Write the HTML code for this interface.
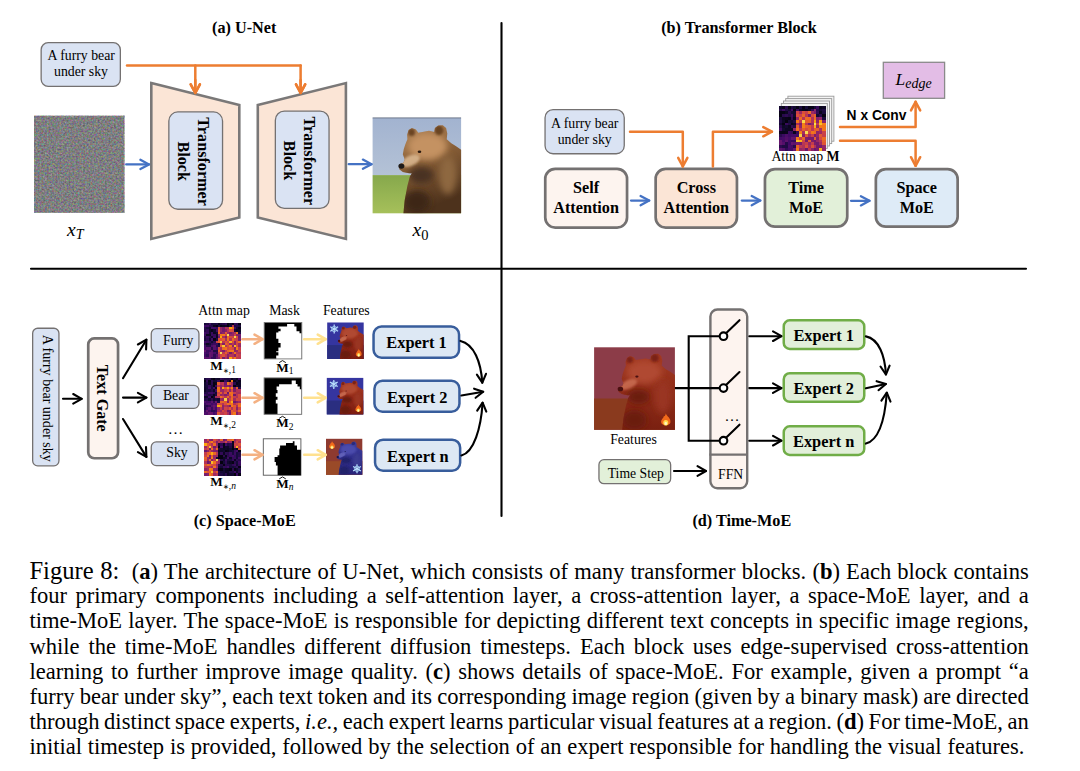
<!DOCTYPE html>
<html><head><meta charset="utf-8">
<style>
html,body{margin:0;padding:0;background:#fff;}
body{width:1080px;height:771px;position:relative;overflow:hidden;}
svg{position:absolute;left:0;top:0;}
.cap{position:absolute;left:0;top:0;font-family:"Liberation Serif",serif;color:#000;}
.ln{position:absolute;white-space:nowrap;line-height:25px;}
</style></head><body>
<svg width="1080" height="771" viewBox="0 0 1080 771">
<line x1="501.5" y1="23" x2="501.5" y2="516" stroke="#000" stroke-width="2.1" stroke-linecap="round"/>
<line x1="31" y1="268.7" x2="1026" y2="268.7" stroke="#000" stroke-width="2.1" stroke-linecap="round"/>
<text x="244.25" y="33.4" font-family="Liberation Serif" font-size="16.2" font-weight="bold" text-anchor="middle" >(a) U-Net</text>
<text x="739" y="33.2" font-family="Liberation Serif" font-size="16.2" font-weight="bold" text-anchor="middle" >(b) Transformer Block</text>
<text x="244.7" y="526.2" font-family="Liberation Serif" font-size="16.2" font-weight="bold" text-anchor="middle" >(c) Space-MoE</text>
<text x="741.8" y="526.2" font-family="Liberation Serif" font-size="16.2" font-weight="bold" text-anchor="middle" >(d) Time-MoE</text>
<rect x="41.15" y="42.65" width="79.20" height="43.70" rx="7" fill="#dae3f3" stroke="#747171" stroke-width="1.3"/>
<text x="81.25" y="60" font-family="Liberation Serif" font-size="13.8" text-anchor="middle" >A furry bear</text>
<text x="81" y="76.3" font-family="Liberation Serif" font-size="13.8" text-anchor="middle" >under sky</text>
<polyline points="127,65.4 300.6,65.4" fill="none" stroke="#ed7d31" stroke-width="2.5" stroke-linecap="round"/>
<polyline points="195.3,65.4 195.3,93.0" fill="none" stroke="#ed7d31" stroke-width="2.5" stroke-linecap="round" stroke-linejoin="round"/>
<polyline points="190.7,84.4 195.3,93.0 199.9,84.4" fill="none" stroke="#ed7d31" stroke-width="2.5" stroke-linecap="round" stroke-linejoin="round"/>
<polyline points="300.6,65.4 300.6,93.0" fill="none" stroke="#ed7d31" stroke-width="2.5" stroke-linecap="round" stroke-linejoin="round"/>
<polyline points="296.0,84.4 300.6,93.0 305.2,84.4" fill="none" stroke="#ed7d31" stroke-width="2.5" stroke-linecap="round" stroke-linejoin="round"/>
<polygon points="151.3,83.1 239.3,105.1 239.3,217.6 151.3,238.9" fill="#fbe5d6" stroke="#7a7878" stroke-width="2.6"/>
<polygon points="257.8,105.1 345.9,83.1 345.9,238.9 257.8,217.6" fill="#fbe5d6" stroke="#7a7878" stroke-width="2.6"/>
<polyline points="195.3,80.0 195.3,93.0" fill="none" stroke="#ed7d31" stroke-width="2.5" stroke-linecap="round" stroke-linejoin="round"/>
<polyline points="190.7,84.4 195.3,93.0 199.9,84.4" fill="none" stroke="#ed7d31" stroke-width="2.5" stroke-linecap="round" stroke-linejoin="round"/>
<polyline points="300.6,80.0 300.6,93.0" fill="none" stroke="#ed7d31" stroke-width="2.5" stroke-linecap="round" stroke-linejoin="round"/>
<polyline points="296.0,84.4 300.6,93.0 305.2,84.4" fill="none" stroke="#ed7d31" stroke-width="2.5" stroke-linecap="round" stroke-linejoin="round"/>
<rect x="168.85" y="111.95" width="53.70" height="97.30" rx="9" fill="#dae3f3" stroke="#747171" stroke-width="1.3"/>
<rect x="275.35" y="111.15" width="53.70" height="97.30" rx="9" fill="#dae3f3" stroke="#747171" stroke-width="1.3"/>
<g transform="translate(197.6,161.6) rotate(90)"><text x="0" y="0" font-family="Liberation Serif" font-size="16.2" font-weight="bold" text-anchor="middle">Transformer</text></g>
<g transform="translate(177.5,161.2) rotate(90)"><text x="0" y="0" font-family="Liberation Serif" font-size="16.2" font-weight="bold" text-anchor="middle">Block</text></g>
<g transform="translate(304.1,160.8) rotate(90)"><text x="0" y="0" font-family="Liberation Serif" font-size="16.2" font-weight="bold" text-anchor="middle">Transformer</text></g>
<g transform="translate(284,160.4) rotate(90)"><text x="0" y="0" font-family="Liberation Serif" font-size="16.2" font-weight="bold" text-anchor="middle">Block</text></g>
<defs><filter id="nz" x="0" y="0" width="100%" height="100%" color-interpolation-filters="sRGB"><feTurbulence type="fractalNoise" baseFrequency="0.55" numOctaves="2" seed="3"/><feColorMatrix type="matrix" values="1.4 0 0 0 -0.2  0 1.4 0 0 -0.2  0 0 1.4 0 -0.19  0 0 0 0 1"/></filter><linearGradient id="sky" x1="0" y1="0" x2="0" y2="1"><stop offset="0" stop-color="#a2b3d0"/><stop offset="1" stop-color="#b4c2d6"/></linearGradient><linearGradient id="grass" x1="0" y1="0" x2="0" y2="1"><stop offset="0" stop-color="#86a84c"/><stop offset="1" stop-color="#a6c05a"/></linearGradient><linearGradient id="fur" x1="0" y1="0" x2="0.3" y2="1"><stop offset="0" stop-color="#b78a5c"/><stop offset="0.45" stop-color="#8a6038"/><stop offset="1" stop-color="#4d321c"/></linearGradient><radialGradient id="fire" cx="0.5" cy="0.7" r="0.6"><stop offset="0" stop-color="#fff2a0"/><stop offset="0.5" stop-color="#ffb020"/><stop offset="1" stop-color="#f05a10"/></radialGradient></defs>
<rect x="34" y="115.9" width="90.4" height="96.9" fill="#7e7e80"/>
<rect x="34" y="115.9" width="90.4" height="96.9" filter="url(#nz)" opacity="0.35"/>
<polyline points="126.2,164.4 149.0,164.4" fill="none" stroke="#4472c4" stroke-width="2.3" stroke-linecap="round" stroke-linejoin="round"/>
<polyline points="140.4,169.0 149.0,164.4 140.4,159.8" fill="none" stroke="#4472c4" stroke-width="2.3" stroke-linecap="round" stroke-linejoin="round"/>
<filter id="bl" x="-50%" y="-50%" width="200%" height="200%"><feGaussianBlur stdDeviation="3"/></filter><filter id="bl2" x="-50%" y="-50%" width="200%" height="200%"><feGaussianBlur stdDeviation="1.2"/></filter><filter id="bls" x="-50%" y="-50%" width="200%" height="200%"><feGaussianBlur stdDeviation="1.3"/></filter><filter id="bls2" x="-50%" y="-50%" width="200%" height="200%"><feGaussianBlur stdDeviation="0.6"/></filter>
<rect x="372.6" y="117.9" width="88.5" height="57.2" fill="url(#sky)"/>
<rect x="372.6" y="175.1" width="88.5" height="38.2" fill="url(#grass)"/>
<clipPath id="bclip0"><path d="M407.4,139.3 L407.1,134.7 L408.6,130.1 L411.9,128.1 L415.9,129.4 L418.3,132.7 L422.4,132.0 L429.0,130.8 L434.2,132.0 L434.9,128.1 L438.2,125.5 L442.8,125.2 L446.1,128.1 L447.3,133.4 L446.7,139.3 L451.3,143.2 L456.5,146.4 L461.1,149.8 L461.1,213.3 L403.4,213.3 L404.7,200.2 L407.4,185.8 L409.9,176.6 L411.9,173.3 L409.3,173.3 L406.1,172.7 L402.8,172.0 L399.5,169.4 L398.8,166.1 L400.8,163.5 L403.4,162.8 L404.7,159.6 L402.8,154.3 L403.8,149.1 L405.3,144.5Z"/></clipPath>
<path d="M407.4,139.3 L407.1,134.7 L408.6,130.1 L411.9,128.1 L415.9,129.4 L418.3,132.7 L422.4,132.0 L429.0,130.8 L434.2,132.0 L434.9,128.1 L438.2,125.5 L442.8,125.2 L446.1,128.1 L447.3,133.4 L446.7,139.3 L451.3,143.2 L456.5,146.4 L461.1,149.8 L461.1,213.3 L403.4,213.3 L404.7,200.2 L407.4,185.8 L409.9,176.6 L411.9,173.3 L409.3,173.3 L406.1,172.7 L402.8,172.0 L399.5,169.4 L398.8,166.1 L400.8,163.5 L403.4,162.8 L404.7,159.6 L402.8,154.3 L403.8,149.1 L405.3,144.5Z" fill="url(#fur)"/>
<g clip-path="url(#bclip0)">
<ellipse cx="427.5" cy="146.5" rx="19.5" ry="13.4" fill="#c49262" filter="url(#bl)"/>
<ellipse cx="410.7" cy="160.8" rx="9.7" ry="5.2" transform="rotate(-25 410.7 160.8)" fill="#d2ae86" filter="url(#bl2)"/>
<ellipse cx="421.3" cy="175.1" rx="12.4" ry="8.6" fill="#4a3020" filter="url(#bl)"/>
<ellipse cx="416.9" cy="201.9" rx="13.3" ry="11.4" fill="#3e2814" filter="url(#bl)"/>
<ellipse cx="447.8" cy="175.1" rx="8.8" ry="19.1" fill="#8e6840" filter="url(#bl)"/>
<ellipse cx="439.0" cy="130.3" rx="4.4" ry="4.8" fill="#6a4424" filter="url(#bl2)"/>
<ellipse cx="411.5" cy="132.2" rx="3.5" ry="3.8" fill="#6a4424" filter="url(#bl2)"/>
</g>
<ellipse cx="419.5" cy="151.8" rx="1.80" ry="1.20" fill="#2a1a10"/>
<ellipse cx="401.4" cy="166.1" rx="3.00" ry="2.60" fill="#1e1a18"/>
<line x1="372.6" y1="117.9" x2="461.1" y2="117.9" stroke="#5a6478" stroke-width="0.8"/>
<polyline points="348.7,164.2 371.5,164.2" fill="none" stroke="#4472c4" stroke-width="2.3" stroke-linecap="round" stroke-linejoin="round"/>
<polyline points="362.9,168.8 371.5,164.2 362.9,159.6" fill="none" stroke="#4472c4" stroke-width="2.3" stroke-linecap="round" stroke-linejoin="round"/>
<text x="67" y="236.1" font-family="Liberation Serif" font-size="19.5" font-style="italic">x<tspan font-size="14" dy="3.0">T</tspan></text>
<text x="412.5" y="236.1" font-family="Liberation Serif" font-size="19.5" font-style="italic">x<tspan font-size="14.5" dy="3.4" font-style="normal">0</tspan></text>
<rect x="545.05" y="109.65" width="79.20" height="44.10" rx="8" fill="#dae3f3" stroke="#747171" stroke-width="1.3"/>
<text x="584.7" y="127.5" font-family="Liberation Serif" font-size="13.8" text-anchor="middle" >A furry bear</text>
<text x="584.7" y="143.5" font-family="Liberation Serif" font-size="13.8" text-anchor="middle" >under sky</text>
<rect x="545.25" y="168.85" width="81.80" height="58.70" rx="10" fill="#fdf4ef" stroke="#747171" stroke-width="2.7"/>
<text x="586.1" y="193" font-family="Liberation Serif" font-size="16.2" font-weight="bold" text-anchor="middle" >Self</text>
<text x="586.1" y="212.7" font-family="Liberation Serif" font-size="16.2" font-weight="bold" text-anchor="middle" >Attention</text>
<rect x="655.65" y="168.85" width="81.30" height="58.70" rx="10" fill="#fbe5d6" stroke="#747171" stroke-width="2.7"/>
<text x="696.3" y="193" font-family="Liberation Serif" font-size="16.2" font-weight="bold" text-anchor="middle" >Cross</text>
<text x="696.3" y="212.7" font-family="Liberation Serif" font-size="16.2" font-weight="bold" text-anchor="middle" >Attention</text>
<rect x="764.95" y="169.15" width="82.30" height="57.50" rx="10" fill="#e2f0d9" stroke="#747171" stroke-width="2.7"/>
<text x="806.1" y="193" font-family="Liberation Serif" font-size="16.2" font-weight="bold" text-anchor="middle" >Time</text>
<text x="806.1" y="212.7" font-family="Liberation Serif" font-size="16.2" font-weight="bold" text-anchor="middle" >MoE</text>
<rect x="875.85" y="169.15" width="81.80" height="57.50" rx="10" fill="#deebf7" stroke="#747171" stroke-width="2.7"/>
<text x="916.75" y="193" font-family="Liberation Serif" font-size="16.2" font-weight="bold" text-anchor="middle" >Space</text>
<text x="916.75" y="212.7" font-family="Liberation Serif" font-size="16.2" font-weight="bold" text-anchor="middle" >MoE</text>
<polyline points="631.0,200.6 649.2,200.6" fill="none" stroke="#4472c4" stroke-width="2.3" stroke-linecap="round" stroke-linejoin="round"/>
<polyline points="640.6,205.2 649.2,200.6 640.6,196.0" fill="none" stroke="#4472c4" stroke-width="2.3" stroke-linecap="round" stroke-linejoin="round"/>
<polyline points="741.8,200.6 760.3,200.6" fill="none" stroke="#4472c4" stroke-width="2.3" stroke-linecap="round" stroke-linejoin="round"/>
<polyline points="751.7,205.2 760.3,200.6 751.7,196.0" fill="none" stroke="#4472c4" stroke-width="2.3" stroke-linecap="round" stroke-linejoin="round"/>
<polyline points="851.0,200.8 869.5,200.8" fill="none" stroke="#4472c4" stroke-width="2.3" stroke-linecap="round" stroke-linejoin="round"/>
<polyline points="860.9,205.4 869.5,200.8 860.9,196.2" fill="none" stroke="#4472c4" stroke-width="2.3" stroke-linecap="round" stroke-linejoin="round"/>
<polyline points="630.0,131.7 682.8,131.7 682.8,166.4" fill="none" stroke="#ed7d31" stroke-width="2.5" stroke-linecap="round" stroke-linejoin="round"/>
<polyline points="678.2,157.8 682.8,166.4 687.4,157.8" fill="none" stroke="#ed7d31" stroke-width="2.5" stroke-linecap="round" stroke-linejoin="round"/>
<polyline points="712.9,166.5 712.9,131.7 771.9,131.7" fill="none" stroke="#ed7d31" stroke-width="2.5" stroke-linecap="round" stroke-linejoin="round"/>
<polyline points="763.3,136.3 771.9,131.7 763.3,127.1" fill="none" stroke="#ed7d31" stroke-width="2.5" stroke-linecap="round" stroke-linejoin="round"/>
<polyline points="840.0,126.9 915.6,126.9 915.6,101.8" fill="none" stroke="#ed7d31" stroke-width="2.5" stroke-linecap="round" stroke-linejoin="round"/>
<polyline points="920.2,110.4 915.6,101.8 911.0,110.4" fill="none" stroke="#ed7d31" stroke-width="2.5" stroke-linecap="round" stroke-linejoin="round"/>
<polyline points="840.0,140.7 915.6,140.7 915.6,165.8" fill="none" stroke="#ed7d31" stroke-width="2.5" stroke-linecap="round" stroke-linejoin="round"/>
<polyline points="911.0,157.2 915.6,165.8 920.2,157.2" fill="none" stroke="#ed7d31" stroke-width="2.5" stroke-linecap="round" stroke-linejoin="round"/>
<rect x="787.9" y="96.2" width="46" height="45" fill="#f4f4f4" stroke="#9a9a9a" stroke-width="0.9"/>
<rect x="785.7" y="98.6" width="46" height="45" fill="#f4f4f4" stroke="#9a9a9a" stroke-width="0.9"/>
<rect x="783.5" y="101.0" width="46" height="45" fill="#f4f4f4" stroke="#9a9a9a" stroke-width="0.9"/>
<rect x="781.3" y="103.4" width="46" height="45" fill="#f4f4f4" stroke="#9a9a9a" stroke-width="0.9"/>
<rect x="779.10" y="105.80" width="3.38" height="3.31" shape-rendering="crispEdges" fill="#11082d"/><rect x="781.98" y="105.80" width="3.38" height="3.31" shape-rendering="crispEdges" fill="#0a051c"/><rect x="784.85" y="105.80" width="3.38" height="3.31" shape-rendering="crispEdges" fill="#260a4a"/><rect x="787.73" y="105.80" width="3.38" height="3.31" shape-rendering="crispEdges" fill="#070315"/><rect x="790.60" y="105.80" width="3.38" height="3.31" shape-rendering="crispEdges" fill="#1d0a40"/><rect x="793.48" y="105.80" width="3.38" height="3.31" shape-rendering="crispEdges" fill="#120931"/><rect x="796.35" y="105.80" width="3.38" height="3.31" shape-rendering="crispEdges" fill="#060314"/><rect x="799.23" y="105.80" width="3.38" height="3.31" shape-rendering="crispEdges" fill="#1a0a3e"/><rect x="802.10" y="105.80" width="3.38" height="3.31" shape-rendering="crispEdges" fill="#050212"/><rect x="804.98" y="105.80" width="3.38" height="3.31" shape-rendering="crispEdges" fill="#150a37"/><rect x="807.85" y="105.80" width="3.38" height="3.31" shape-rendering="crispEdges" fill="#070315"/><rect x="810.73" y="105.80" width="3.38" height="3.31" shape-rendering="crispEdges" fill="#070317"/><rect x="813.60" y="105.80" width="3.38" height="3.31" shape-rendering="crispEdges" fill="#150a37"/><rect x="816.48" y="105.80" width="3.38" height="3.31" shape-rendering="crispEdges" fill="#340a59"/><rect x="819.35" y="105.80" width="3.38" height="3.31" shape-rendering="crispEdges" fill="#09041a"/><rect x="822.23" y="105.80" width="3.38" height="3.31" shape-rendering="crispEdges" fill="#0d0623"/><rect x="779.10" y="108.61" width="3.38" height="3.31" shape-rendering="crispEdges" fill="#240a48"/><rect x="781.98" y="108.61" width="3.38" height="3.31" shape-rendering="crispEdges" fill="#3d0a63"/><rect x="784.85" y="108.61" width="3.38" height="3.31" shape-rendering="crispEdges" fill="#200a44"/><rect x="787.73" y="108.61" width="3.38" height="3.31" shape-rendering="crispEdges" fill="#140a34"/><rect x="790.60" y="108.61" width="3.38" height="3.31" shape-rendering="crispEdges" fill="#400a65"/><rect x="793.48" y="108.61" width="3.38" height="3.31" shape-rendering="crispEdges" fill="#060313"/><rect x="796.35" y="108.61" width="3.38" height="3.31" shape-rendering="crispEdges" fill="#360a5c"/><rect x="799.23" y="108.61" width="3.38" height="3.31" shape-rendering="crispEdges" fill="#0f072a"/><rect x="802.10" y="108.61" width="3.38" height="3.31" shape-rendering="crispEdges" fill="#0a051c"/><rect x="804.98" y="108.61" width="3.38" height="3.31" shape-rendering="crispEdges" fill="#090419"/><rect x="807.85" y="108.61" width="3.38" height="3.31" shape-rendering="crispEdges" fill="#10082c"/><rect x="810.73" y="108.61" width="3.38" height="3.31" shape-rendering="crispEdges" fill="#330a58"/><rect x="813.60" y="108.61" width="3.38" height="3.31" shape-rendering="crispEdges" fill="#892268"/><rect x="816.48" y="108.61" width="3.38" height="3.31" shape-rendering="crispEdges" fill="#250a49"/><rect x="819.35" y="108.61" width="3.38" height="3.31" shape-rendering="crispEdges" fill="#130932"/><rect x="822.23" y="108.61" width="3.38" height="3.31" shape-rendering="crispEdges" fill="#1e0a41"/><rect x="779.10" y="111.42" width="3.38" height="3.31" shape-rendering="crispEdges" fill="#060314"/><rect x="781.98" y="111.42" width="3.38" height="3.31" shape-rendering="crispEdges" fill="#060314"/><rect x="784.85" y="111.42" width="3.38" height="3.31" shape-rendering="crispEdges" fill="#0c0622"/><rect x="787.73" y="111.42" width="3.38" height="3.31" shape-rendering="crispEdges" fill="#280a4c"/><rect x="790.60" y="111.42" width="3.38" height="3.31" shape-rendering="crispEdges" fill="#150a37"/><rect x="793.48" y="111.42" width="3.38" height="3.31" shape-rendering="crispEdges" fill="#10082c"/><rect x="796.35" y="111.42" width="3.38" height="3.31" shape-rendering="crispEdges" fill="#cb4248"/><rect x="799.23" y="111.42" width="3.38" height="3.31" shape-rendering="crispEdges" fill="#9d2a62"/><rect x="802.10" y="111.42" width="3.38" height="3.31" shape-rendering="crispEdges" fill="#da4f3b"/><rect x="804.98" y="111.42" width="3.38" height="3.31" shape-rendering="crispEdges" fill="#c94149"/><rect x="807.85" y="111.42" width="3.38" height="3.31" shape-rendering="crispEdges" fill="#eb6b23"/><rect x="810.73" y="111.42" width="3.38" height="3.31" shape-rendering="crispEdges" fill="#9b2963"/><rect x="813.60" y="111.42" width="3.38" height="3.31" shape-rendering="crispEdges" fill="#7e1e6a"/><rect x="816.48" y="111.42" width="3.38" height="3.31" shape-rendering="crispEdges" fill="#2e0a53"/><rect x="819.35" y="111.42" width="3.38" height="3.31" shape-rendering="crispEdges" fill="#0a051d"/><rect x="822.23" y="111.42" width="3.38" height="3.31" shape-rendering="crispEdges" fill="#190a3c"/><rect x="779.10" y="114.24" width="3.38" height="3.31" shape-rendering="crispEdges" fill="#050212"/><rect x="781.98" y="114.24" width="3.38" height="3.31" shape-rendering="crispEdges" fill="#270a4b"/><rect x="784.85" y="114.24" width="3.38" height="3.31" shape-rendering="crispEdges" fill="#2f0a54"/><rect x="787.73" y="114.24" width="3.38" height="3.31" shape-rendering="crispEdges" fill="#200a43"/><rect x="790.60" y="114.24" width="3.38" height="3.31" shape-rendering="crispEdges" fill="#380a5d"/><rect x="793.48" y="114.24" width="3.38" height="3.31" shape-rendering="crispEdges" fill="#10082c"/><rect x="796.35" y="114.24" width="3.38" height="3.31" shape-rendering="crispEdges" fill="#da4e3c"/><rect x="799.23" y="114.24" width="3.38" height="3.31" shape-rendering="crispEdges" fill="#ca4248"/><rect x="802.10" y="114.24" width="3.38" height="3.31" shape-rendering="crispEdges" fill="#e86528"/><rect x="804.98" y="114.24" width="3.38" height="3.31" shape-rendering="crispEdges" fill="#bb3654"/><rect x="807.85" y="114.24" width="3.38" height="3.31" shape-rendering="crispEdges" fill="#741a6c"/><rect x="810.73" y="114.24" width="3.38" height="3.31" shape-rendering="crispEdges" fill="#d34941"/><rect x="813.60" y="114.24" width="3.38" height="3.31" shape-rendering="crispEdges" fill="#e6622b"/><rect x="816.48" y="114.24" width="3.38" height="3.31" shape-rendering="crispEdges" fill="#130933"/><rect x="819.35" y="114.24" width="3.38" height="3.31" shape-rendering="crispEdges" fill="#270a4b"/><rect x="822.23" y="114.24" width="3.38" height="3.31" shape-rendering="crispEdges" fill="#050210"/><rect x="779.10" y="117.05" width="3.38" height="3.31" shape-rendering="crispEdges" fill="#170a3a"/><rect x="781.98" y="117.05" width="3.38" height="3.31" shape-rendering="crispEdges" fill="#0b051e"/><rect x="784.85" y="117.05" width="3.38" height="3.31" shape-rendering="crispEdges" fill="#090419"/><rect x="787.73" y="117.05" width="3.38" height="3.31" shape-rendering="crispEdges" fill="#060314"/><rect x="790.60" y="117.05" width="3.38" height="3.31" shape-rendering="crispEdges" fill="#2f0a54"/><rect x="793.48" y="117.05" width="3.38" height="3.31" shape-rendering="crispEdges" fill="#09041a"/><rect x="796.35" y="117.05" width="3.38" height="3.31" shape-rendering="crispEdges" fill="#942666"/><rect x="799.23" y="117.05" width="3.38" height="3.31" shape-rendering="crispEdges" fill="#eb6a24"/><rect x="802.10" y="117.05" width="3.38" height="3.31" shape-rendering="crispEdges" fill="#b73556"/><rect x="804.98" y="117.05" width="3.38" height="3.31" shape-rendering="crispEdges" fill="#ec6c22"/><rect x="807.85" y="117.05" width="3.38" height="3.31" shape-rendering="crispEdges" fill="#ea6925"/><rect x="810.73" y="117.05" width="3.38" height="3.31" shape-rendering="crispEdges" fill="#b13258"/><rect x="813.60" y="117.05" width="3.38" height="3.31" shape-rendering="crispEdges" fill="#ec6c22"/><rect x="816.48" y="117.05" width="3.38" height="3.31" shape-rendering="crispEdges" fill="#832069"/><rect x="819.35" y="117.05" width="3.38" height="3.31" shape-rendering="crispEdges" fill="#912567"/><rect x="822.23" y="117.05" width="3.38" height="3.31" shape-rendering="crispEdges" fill="#190a3c"/><rect x="779.10" y="119.86" width="3.38" height="3.31" shape-rendering="crispEdges" fill="#210a45"/><rect x="781.98" y="119.86" width="3.38" height="3.31" shape-rendering="crispEdges" fill="#0e0727"/><rect x="784.85" y="119.86" width="3.38" height="3.31" shape-rendering="crispEdges" fill="#04020e"/><rect x="787.73" y="119.86" width="3.38" height="3.31" shape-rendering="crispEdges" fill="#140a36"/><rect x="790.60" y="119.86" width="3.38" height="3.31" shape-rendering="crispEdges" fill="#130931"/><rect x="793.48" y="119.86" width="3.38" height="3.31" shape-rendering="crispEdges" fill="#1f0a43"/><rect x="796.35" y="119.86" width="3.38" height="3.31" shape-rendering="crispEdges" fill="#f37818"/><rect x="799.23" y="119.86" width="3.38" height="3.31" shape-rendering="crispEdges" fill="#c13b4f"/><rect x="802.10" y="119.86" width="3.38" height="3.31" shape-rendering="crispEdges" fill="#f6d94b"/><rect x="804.98" y="119.86" width="3.38" height="3.31" shape-rendering="crispEdges" fill="#e35b30"/><rect x="807.85" y="119.86" width="3.38" height="3.31" shape-rendering="crispEdges" fill="#e45e2e"/><rect x="810.73" y="119.86" width="3.38" height="3.31" shape-rendering="crispEdges" fill="#ae315a"/><rect x="813.60" y="119.86" width="3.38" height="3.31" shape-rendering="crispEdges" fill="#fba00b"/><rect x="816.48" y="119.86" width="3.38" height="3.31" shape-rendering="crispEdges" fill="#8d2467"/><rect x="819.35" y="119.86" width="3.38" height="3.31" shape-rendering="crispEdges" fill="#fa9c0c"/><rect x="822.23" y="119.86" width="3.38" height="3.31" shape-rendering="crispEdges" fill="#842069"/><rect x="779.10" y="122.67" width="3.38" height="3.31" shape-rendering="crispEdges" fill="#120931"/><rect x="781.98" y="122.67" width="3.38" height="3.31" shape-rendering="crispEdges" fill="#050211"/><rect x="784.85" y="122.67" width="3.38" height="3.31" shape-rendering="crispEdges" fill="#380a5d"/><rect x="787.73" y="122.67" width="3.38" height="3.31" shape-rendering="crispEdges" fill="#230a47"/><rect x="790.60" y="122.67" width="3.38" height="3.31" shape-rendering="crispEdges" fill="#0a051c"/><rect x="793.48" y="122.67" width="3.38" height="3.31" shape-rendering="crispEdges" fill="#0e0726"/><rect x="796.35" y="122.67" width="3.38" height="3.31" shape-rendering="crispEdges" fill="#a52d5e"/><rect x="799.23" y="122.67" width="3.38" height="3.31" shape-rendering="crispEdges" fill="#7f1e6a"/><rect x="802.10" y="122.67" width="3.38" height="3.31" shape-rendering="crispEdges" fill="#f47f16"/><rect x="804.98" y="122.67" width="3.38" height="3.31" shape-rendering="crispEdges" fill="#bd3753"/><rect x="807.85" y="122.67" width="3.38" height="3.31" shape-rendering="crispEdges" fill="#7b1d6a"/><rect x="810.73" y="122.67" width="3.38" height="3.31" shape-rendering="crispEdges" fill="#972764"/><rect x="813.60" y="122.67" width="3.38" height="3.31" shape-rendering="crispEdges" fill="#f6dc52"/><rect x="816.48" y="122.67" width="3.38" height="3.31" shape-rendering="crispEdges" fill="#c33c4e"/><rect x="819.35" y="122.67" width="3.38" height="3.31" shape-rendering="crispEdges" fill="#f8bf2a"/><rect x="822.23" y="122.67" width="3.38" height="3.31" shape-rendering="crispEdges" fill="#f37c17"/><rect x="779.10" y="125.49" width="3.38" height="3.31" shape-rendering="crispEdges" fill="#290a4e"/><rect x="781.98" y="125.49" width="3.38" height="3.31" shape-rendering="crispEdges" fill="#0e0727"/><rect x="784.85" y="125.49" width="3.38" height="3.31" shape-rendering="crispEdges" fill="#120931"/><rect x="787.73" y="125.49" width="3.38" height="3.31" shape-rendering="crispEdges" fill="#0b051e"/><rect x="790.60" y="125.49" width="3.38" height="3.31" shape-rendering="crispEdges" fill="#2f0a54"/><rect x="793.48" y="125.49" width="3.38" height="3.31" shape-rendering="crispEdges" fill="#1c0a40"/><rect x="796.35" y="125.49" width="3.38" height="3.31" shape-rendering="crispEdges" fill="#e25b31"/><rect x="799.23" y="125.49" width="3.38" height="3.31" shape-rendering="crispEdges" fill="#902567"/><rect x="802.10" y="125.49" width="3.38" height="3.31" shape-rendering="crispEdges" fill="#f47e16"/><rect x="804.98" y="125.49" width="3.38" height="3.31" shape-rendering="crispEdges" fill="#e5602d"/><rect x="807.85" y="125.49" width="3.38" height="3.31" shape-rendering="crispEdges" fill="#df5536"/><rect x="810.73" y="125.49" width="3.38" height="3.31" shape-rendering="crispEdges" fill="#c13b4f"/><rect x="813.60" y="125.49" width="3.38" height="3.31" shape-rendering="crispEdges" fill="#faae15"/><rect x="816.48" y="125.49" width="3.38" height="3.31" shape-rendering="crispEdges" fill="#962765"/><rect x="819.35" y="125.49" width="3.38" height="3.31" shape-rendering="crispEdges" fill="#f37818"/><rect x="822.23" y="125.49" width="3.38" height="3.31" shape-rendering="crispEdges" fill="#f1751b"/><rect x="779.10" y="128.30" width="3.38" height="3.31" shape-rendering="crispEdges" fill="#3e0a64"/><rect x="781.98" y="128.30" width="3.38" height="3.31" shape-rendering="crispEdges" fill="#120931"/><rect x="784.85" y="128.30" width="3.38" height="3.31" shape-rendering="crispEdges" fill="#0d0623"/><rect x="787.73" y="128.30" width="3.38" height="3.31" shape-rendering="crispEdges" fill="#0d0624"/><rect x="790.60" y="128.30" width="3.38" height="3.31" shape-rendering="crispEdges" fill="#0c0621"/><rect x="793.48" y="128.30" width="3.38" height="3.31" shape-rendering="crispEdges" fill="#8d2367"/><rect x="796.35" y="128.30" width="3.38" height="3.31" shape-rendering="crispEdges" fill="#ee6f20"/><rect x="799.23" y="128.30" width="3.38" height="3.31" shape-rendering="crispEdges" fill="#bc3753"/><rect x="802.10" y="128.30" width="3.38" height="3.31" shape-rendering="crispEdges" fill="#e45e2e"/><rect x="804.98" y="128.30" width="3.38" height="3.31" shape-rendering="crispEdges" fill="#d54b3f"/><rect x="807.85" y="128.30" width="3.38" height="3.31" shape-rendering="crispEdges" fill="#e35c30"/><rect x="810.73" y="128.30" width="3.38" height="3.31" shape-rendering="crispEdges" fill="#bc3753"/><rect x="813.60" y="128.30" width="3.38" height="3.31" shape-rendering="crispEdges" fill="#e35d2f"/><rect x="816.48" y="128.30" width="3.38" height="3.31" shape-rendering="crispEdges" fill="#e45f2e"/><rect x="819.35" y="128.30" width="3.38" height="3.31" shape-rendering="crispEdges" fill="#ae315a"/><rect x="822.23" y="128.30" width="3.38" height="3.31" shape-rendering="crispEdges" fill="#f27719"/><rect x="779.10" y="131.11" width="3.38" height="3.31" shape-rendering="crispEdges" fill="#0b051e"/><rect x="781.98" y="131.11" width="3.38" height="3.31" shape-rendering="crispEdges" fill="#09041a"/><rect x="784.85" y="131.11" width="3.38" height="3.31" shape-rendering="crispEdges" fill="#0a051d"/><rect x="787.73" y="131.11" width="3.38" height="3.31" shape-rendering="crispEdges" fill="#3a0a5f"/><rect x="790.60" y="131.11" width="3.38" height="3.31" shape-rendering="crispEdges" fill="#320a57"/><rect x="793.48" y="131.11" width="3.38" height="3.31" shape-rendering="crispEdges" fill="#0a051c"/><rect x="796.35" y="131.11" width="3.38" height="3.31" shape-rendering="crispEdges" fill="#340a59"/><rect x="799.23" y="131.11" width="3.38" height="3.31" shape-rendering="crispEdges" fill="#f47d17"/><rect x="802.10" y="131.11" width="3.38" height="3.31" shape-rendering="crispEdges" fill="#a62e5e"/><rect x="804.98" y="131.11" width="3.38" height="3.31" shape-rendering="crispEdges" fill="#f6dd54"/><rect x="807.85" y="131.11" width="3.38" height="3.31" shape-rendering="crispEdges" fill="#d44941"/><rect x="810.73" y="131.11" width="3.38" height="3.31" shape-rendering="crispEdges" fill="#f1741b"/><rect x="813.60" y="131.11" width="3.38" height="3.31" shape-rendering="crispEdges" fill="#eb6a24"/><rect x="816.48" y="131.11" width="3.38" height="3.31" shape-rendering="crispEdges" fill="#8e2467"/><rect x="819.35" y="131.11" width="3.38" height="3.31" shape-rendering="crispEdges" fill="#9c2962"/><rect x="822.23" y="131.11" width="3.38" height="3.31" shape-rendering="crispEdges" fill="#cb4347"/><rect x="779.10" y="133.93" width="3.38" height="3.31" shape-rendering="crispEdges" fill="#290a4d"/><rect x="781.98" y="133.93" width="3.38" height="3.31" shape-rendering="crispEdges" fill="#3a0a60"/><rect x="784.85" y="133.93" width="3.38" height="3.31" shape-rendering="crispEdges" fill="#4c0d69"/><rect x="787.73" y="133.93" width="3.38" height="3.31" shape-rendering="crispEdges" fill="#400a65"/><rect x="790.60" y="133.93" width="3.38" height="3.31" shape-rendering="crispEdges" fill="#460b68"/><rect x="793.48" y="133.93" width="3.38" height="3.31" shape-rendering="crispEdges" fill="#470b68"/><rect x="796.35" y="133.93" width="3.38" height="3.31" shape-rendering="crispEdges" fill="#410a67"/><rect x="799.23" y="133.93" width="3.38" height="3.31" shape-rendering="crispEdges" fill="#f6d241"/><rect x="802.10" y="133.93" width="3.38" height="3.31" shape-rendering="crispEdges" fill="#872168"/><rect x="804.98" y="133.93" width="3.38" height="3.31" shape-rendering="crispEdges" fill="#de5238"/><rect x="807.85" y="133.93" width="3.38" height="3.31" shape-rendering="crispEdges" fill="#a22c5f"/><rect x="810.73" y="133.93" width="3.38" height="3.31" shape-rendering="crispEdges" fill="#c63f4b"/><rect x="813.60" y="133.93" width="3.38" height="3.31" shape-rendering="crispEdges" fill="#7c1d6a"/><rect x="816.48" y="133.93" width="3.38" height="3.31" shape-rendering="crispEdges" fill="#942666"/><rect x="819.35" y="133.93" width="3.38" height="3.31" shape-rendering="crispEdges" fill="#e25a31"/><rect x="822.23" y="133.93" width="3.38" height="3.31" shape-rendering="crispEdges" fill="#c7404a"/><rect x="779.10" y="136.74" width="3.38" height="3.31" shape-rendering="crispEdges" fill="#410a67"/><rect x="781.98" y="136.74" width="3.38" height="3.31" shape-rendering="crispEdges" fill="#460b68"/><rect x="784.85" y="136.74" width="3.38" height="3.31" shape-rendering="crispEdges" fill="#530f6a"/><rect x="787.73" y="136.74" width="3.38" height="3.31" shape-rendering="crispEdges" fill="#480c68"/><rect x="790.60" y="136.74" width="3.38" height="3.31" shape-rendering="crispEdges" fill="#65156d"/><rect x="793.48" y="136.74" width="3.38" height="3.31" shape-rendering="crispEdges" fill="#61146c"/><rect x="796.35" y="136.74" width="3.38" height="3.31" shape-rendering="crispEdges" fill="#f2761a"/><rect x="799.23" y="136.74" width="3.38" height="3.31" shape-rendering="crispEdges" fill="#c7404a"/><rect x="802.10" y="136.74" width="3.38" height="3.31" shape-rendering="crispEdges" fill="#e86528"/><rect x="804.98" y="136.74" width="3.38" height="3.31" shape-rendering="crispEdges" fill="#7e1e6a"/><rect x="807.85" y="136.74" width="3.38" height="3.31" shape-rendering="crispEdges" fill="#761b6b"/><rect x="810.73" y="136.74" width="3.38" height="3.31" shape-rendering="crispEdges" fill="#761b6b"/><rect x="813.60" y="136.74" width="3.38" height="3.31" shape-rendering="crispEdges" fill="#e35c30"/><rect x="816.48" y="136.74" width="3.38" height="3.31" shape-rendering="crispEdges" fill="#842069"/><rect x="819.35" y="136.74" width="3.38" height="3.31" shape-rendering="crispEdges" fill="#d54b3f"/><rect x="822.23" y="136.74" width="3.38" height="3.31" shape-rendering="crispEdges" fill="#ec6c22"/><rect x="779.10" y="139.55" width="3.38" height="3.31" shape-rendering="crispEdges" fill="#66156d"/><rect x="781.98" y="139.55" width="3.38" height="3.31" shape-rendering="crispEdges" fill="#450b68"/><rect x="784.85" y="139.55" width="3.38" height="3.31" shape-rendering="crispEdges" fill="#5d136c"/><rect x="787.73" y="139.55" width="3.38" height="3.31" shape-rendering="crispEdges" fill="#400a66"/><rect x="790.60" y="139.55" width="3.38" height="3.31" shape-rendering="crispEdges" fill="#390a5f"/><rect x="793.48" y="139.55" width="3.38" height="3.31" shape-rendering="crispEdges" fill="#380a5d"/><rect x="796.35" y="139.55" width="3.38" height="3.31" shape-rendering="crispEdges" fill="#f8c12c"/><rect x="799.23" y="139.55" width="3.38" height="3.31" shape-rendering="crispEdges" fill="#fab219"/><rect x="802.10" y="139.55" width="3.38" height="3.31" shape-rendering="crispEdges" fill="#d04743"/><rect x="804.98" y="139.55" width="3.38" height="3.31" shape-rendering="crispEdges" fill="#751b6c"/><rect x="807.85" y="139.55" width="3.38" height="3.31" shape-rendering="crispEdges" fill="#e35d2f"/><rect x="810.73" y="139.55" width="3.38" height="3.31" shape-rendering="crispEdges" fill="#7c1d6a"/><rect x="813.60" y="139.55" width="3.38" height="3.31" shape-rendering="crispEdges" fill="#70196c"/><rect x="816.48" y="139.55" width="3.38" height="3.31" shape-rendering="crispEdges" fill="#982864"/><rect x="819.35" y="139.55" width="3.38" height="3.31" shape-rendering="crispEdges" fill="#b23358"/><rect x="822.23" y="139.55" width="3.38" height="3.31" shape-rendering="crispEdges" fill="#e6622b"/><rect x="779.10" y="142.36" width="3.38" height="3.31" shape-rendering="crispEdges" fill="#64156d"/><rect x="781.98" y="142.36" width="3.38" height="3.31" shape-rendering="crispEdges" fill="#540f6a"/><rect x="784.85" y="142.36" width="3.38" height="3.31" shape-rendering="crispEdges" fill="#230a47"/><rect x="787.73" y="142.36" width="3.38" height="3.31" shape-rendering="crispEdges" fill="#400a66"/><rect x="790.60" y="142.36" width="3.38" height="3.31" shape-rendering="crispEdges" fill="#65156d"/><rect x="793.48" y="142.36" width="3.38" height="3.31" shape-rendering="crispEdges" fill="#5b126b"/><rect x="796.35" y="142.36" width="3.38" height="3.31" shape-rendering="crispEdges" fill="#781c6b"/><rect x="799.23" y="142.36" width="3.38" height="3.31" shape-rendering="crispEdges" fill="#751b6c"/><rect x="802.10" y="142.36" width="3.38" height="3.31" shape-rendering="crispEdges" fill="#b83555"/><rect x="804.98" y="142.36" width="3.38" height="3.31" shape-rendering="crispEdges" fill="#c63f4b"/><rect x="807.85" y="142.36" width="3.38" height="3.31" shape-rendering="crispEdges" fill="#982864"/><rect x="810.73" y="142.36" width="3.38" height="3.31" shape-rendering="crispEdges" fill="#c33c4e"/><rect x="813.60" y="142.36" width="3.38" height="3.31" shape-rendering="crispEdges" fill="#7c1d6a"/><rect x="816.48" y="142.36" width="3.38" height="3.31" shape-rendering="crispEdges" fill="#721a6c"/><rect x="819.35" y="142.36" width="3.38" height="3.31" shape-rendering="crispEdges" fill="#9f2b61"/><rect x="822.23" y="142.36" width="3.38" height="3.31" shape-rendering="crispEdges" fill="#e15833"/><rect x="779.10" y="145.18" width="3.38" height="3.31" shape-rendering="crispEdges" fill="#2c0a51"/><rect x="781.98" y="145.18" width="3.38" height="3.31" shape-rendering="crispEdges" fill="#200a43"/><rect x="784.85" y="145.18" width="3.38" height="3.31" shape-rendering="crispEdges" fill="#200a43"/><rect x="787.73" y="145.18" width="3.38" height="3.31" shape-rendering="crispEdges" fill="#490c69"/><rect x="790.60" y="145.18" width="3.38" height="3.31" shape-rendering="crispEdges" fill="#440a68"/><rect x="793.48" y="145.18" width="3.38" height="3.31" shape-rendering="crispEdges" fill="#270a4b"/><rect x="796.35" y="145.18" width="3.38" height="3.31" shape-rendering="crispEdges" fill="#e6622b"/><rect x="799.23" y="145.18" width="3.38" height="3.31" shape-rendering="crispEdges" fill="#be3951"/><rect x="802.10" y="145.18" width="3.38" height="3.31" shape-rendering="crispEdges" fill="#ad315a"/><rect x="804.98" y="145.18" width="3.38" height="3.31" shape-rendering="crispEdges" fill="#d94e3c"/><rect x="807.85" y="145.18" width="3.38" height="3.31" shape-rendering="crispEdges" fill="#a52d5e"/><rect x="810.73" y="145.18" width="3.38" height="3.31" shape-rendering="crispEdges" fill="#db503a"/><rect x="813.60" y="145.18" width="3.38" height="3.31" shape-rendering="crispEdges" fill="#af3159"/><rect x="816.48" y="145.18" width="3.38" height="3.31" shape-rendering="crispEdges" fill="#731a6c"/><rect x="819.35" y="145.18" width="3.38" height="3.31" shape-rendering="crispEdges" fill="#761b6b"/><rect x="822.23" y="145.18" width="3.38" height="3.31" shape-rendering="crispEdges" fill="#962765"/><rect x="779.10" y="147.99" width="3.38" height="3.31" shape-rendering="crispEdges" fill="#5e136c"/><rect x="781.98" y="147.99" width="3.38" height="3.31" shape-rendering="crispEdges" fill="#520f6a"/><rect x="784.85" y="147.99" width="3.38" height="3.31" shape-rendering="crispEdges" fill="#310a56"/><rect x="787.73" y="147.99" width="3.38" height="3.31" shape-rendering="crispEdges" fill="#430a68"/><rect x="790.60" y="147.99" width="3.38" height="3.31" shape-rendering="crispEdges" fill="#420a68"/><rect x="793.48" y="147.99" width="3.38" height="3.31" shape-rendering="crispEdges" fill="#67166d"/><rect x="796.35" y="147.99" width="3.38" height="3.31" shape-rendering="crispEdges" fill="#f37b17"/><rect x="799.23" y="147.99" width="3.38" height="3.31" shape-rendering="crispEdges" fill="#942666"/><rect x="802.10" y="147.99" width="3.38" height="3.31" shape-rendering="crispEdges" fill="#9f2b61"/><rect x="804.98" y="147.99" width="3.38" height="3.31" shape-rendering="crispEdges" fill="#6a176d"/><rect x="807.85" y="147.99" width="3.38" height="3.31" shape-rendering="crispEdges" fill="#bb3654"/><rect x="810.73" y="147.99" width="3.38" height="3.31" shape-rendering="crispEdges" fill="#8c2368"/><rect x="813.60" y="147.99" width="3.38" height="3.31" shape-rendering="crispEdges" fill="#6a176d"/><rect x="816.48" y="147.99" width="3.38" height="3.31" shape-rendering="crispEdges" fill="#791c6b"/><rect x="819.35" y="147.99" width="3.38" height="3.31" shape-rendering="crispEdges" fill="#fab017"/><rect x="822.23" y="147.99" width="3.38" height="3.31" shape-rendering="crispEdges" fill="#922567"/>
<text x="805.5" y="161.4" font-family="Liberation Serif" font-size="13.8" text-anchor="middle" >Attn map <tspan font-weight="bold">M</tspan></text>
<text x="876.5" y="120" font-family="Liberation Sans" font-size="13.8" font-weight="bold" text-anchor="middle" >N x Conv</text>
<rect x="883.3" y="62.3" width="61.3" height="36" fill="#e3bde6" stroke="#8a8a8a" stroke-width="1.3"/>
<text x="895.5" y="84.5" font-family="Liberation Serif" font-size="17.5" font-style="italic">L<tspan font-size="14" dy="3.4">edge</tspan></text>
<rect x="32.65" y="328.25" width="26.30" height="137.60" rx="5" fill="#dae3f3" stroke="#747171" stroke-width="1.3"/>
<g transform="translate(43.1,398.25) rotate(90)"><text x="0" y="0" font-family="Liberation Serif" font-size="14.05" text-anchor="middle">A furry bear under sky</text></g>
<polyline points="63.0,398.8 81.7,398.8" fill="none" stroke="#000" stroke-width="2.1" stroke-linecap="round" stroke-linejoin="round"/>
<polyline points="73.2,403.6 81.7,398.8 73.2,394.0" fill="none" stroke="#000" stroke-width="2.1" stroke-linecap="round" stroke-linejoin="round"/>
<rect x="88.25" y="338.45" width="29.80" height="119.80" rx="6" fill="#fdf4ef" stroke="#747171" stroke-width="2.7"/>
<g transform="translate(97,398.25) rotate(90)"><text x="0" y="0" font-family="Liberation Serif" font-size="16.1" font-weight="bold" text-anchor="middle">Text Gate</text></g>
<polyline points="123.0,378.2 146.4,339.7" fill="none" stroke="#000" stroke-width="2.1" stroke-linecap="round" stroke-linejoin="round"/>
<polyline points="146.1,349.5 146.4,339.7 137.9,344.5" fill="none" stroke="#000" stroke-width="2.1" stroke-linecap="round" stroke-linejoin="round"/>
<polyline points="123.0,397.6 146.4,397.6" fill="none" stroke="#000" stroke-width="2.1" stroke-linecap="round" stroke-linejoin="round"/>
<polyline points="137.9,402.4 146.4,397.6 137.9,392.8" fill="none" stroke="#000" stroke-width="2.1" stroke-linecap="round" stroke-linejoin="round"/>
<polyline points="123.0,419.0 146.4,456.9" fill="none" stroke="#000" stroke-width="2.1" stroke-linecap="round" stroke-linejoin="round"/>
<polyline points="137.9,452.2 146.4,456.9 146.0,447.1" fill="none" stroke="#000" stroke-width="2.1" stroke-linecap="round" stroke-linejoin="round"/>
<rect x="151.25" y="328.65" width="47.70" height="23.20" rx="5" fill="#dae3f3" stroke="#747171" stroke-width="1.3"/>
<rect x="151.25" y="385.45" width="47.70" height="22.90" rx="5" fill="#dae3f3" stroke="#747171" stroke-width="1.3"/>
<rect x="151.25" y="441.95" width="47.10" height="23.60" rx="5" fill="#dae3f3" stroke="#747171" stroke-width="1.3"/>
<text x="178.2" y="345.2" font-family="Liberation Serif" font-size="13.6" text-anchor="middle" >Furry</text>
<text x="175.9" y="400.1" font-family="Liberation Serif" font-size="13.8" text-anchor="middle" >Bear</text>
<text x="177" y="457.2" font-family="Liberation Serif" font-size="13.8" text-anchor="middle" >Sky</text>
<text x="175.4" y="434" font-family="Liberation Serif" font-size="15.5" text-anchor="middle" >…</text>
<text x="224" y="315" font-family="Liberation Serif" font-size="13.8" text-anchor="middle" >Attn map</text>
<text x="284.5" y="315" font-family="Liberation Serif" font-size="13.8" text-anchor="middle" >Mask</text>
<text x="346.3" y="315" font-family="Liberation Serif" font-size="13.8" text-anchor="middle" >Features</text>
<linearGradient id="rfur2" x1="0" y1="0" x2="0" y2="1"><stop offset="0" stop-color="#a83a24"/><stop offset="1" stop-color="#7c1c10"/></linearGradient><linearGradient id="bfur" x1="0" y1="0" x2="0" y2="1"><stop offset="0" stop-color="#3c3c9c"/><stop offset="1" stop-color="#28247a"/></linearGradient>
<rect x="204.20" y="322.50" width="2.77" height="2.77" shape-rendering="crispEdges" fill="#160a39"/><rect x="206.47" y="322.50" width="2.77" height="2.77" shape-rendering="crispEdges" fill="#1f0a42"/><rect x="208.75" y="322.50" width="2.77" height="2.77" shape-rendering="crispEdges" fill="#3b0a61"/><rect x="211.02" y="322.50" width="2.77" height="2.77" shape-rendering="crispEdges" fill="#170a3a"/><rect x="213.30" y="322.50" width="2.77" height="2.77" shape-rendering="crispEdges" fill="#1b0a3e"/><rect x="215.57" y="322.50" width="2.77" height="2.77" shape-rendering="crispEdges" fill="#210a45"/><rect x="217.85" y="322.50" width="2.77" height="2.77" shape-rendering="crispEdges" fill="#0b0520"/><rect x="220.12" y="322.50" width="2.77" height="2.77" shape-rendering="crispEdges" fill="#1b0a3e"/><rect x="222.40" y="322.50" width="2.77" height="2.77" shape-rendering="crispEdges" fill="#240a48"/><rect x="224.67" y="322.50" width="2.77" height="2.77" shape-rendering="crispEdges" fill="#310a56"/><rect x="226.95" y="322.50" width="2.77" height="2.77" shape-rendering="crispEdges" fill="#080417"/><rect x="229.22" y="322.50" width="2.77" height="2.77" shape-rendering="crispEdges" fill="#10082b"/><rect x="231.50" y="322.50" width="2.77" height="2.77" shape-rendering="crispEdges" fill="#070317"/><rect x="233.77" y="322.50" width="2.77" height="2.77" shape-rendering="crispEdges" fill="#320a57"/><rect x="236.05" y="322.50" width="2.77" height="2.77" shape-rendering="crispEdges" fill="#290a4e"/><rect x="238.32" y="322.50" width="2.77" height="2.77" shape-rendering="crispEdges" fill="#060312"/><rect x="204.20" y="324.77" width="2.77" height="2.77" shape-rendering="crispEdges" fill="#400a66"/><rect x="206.47" y="324.77" width="2.77" height="2.77" shape-rendering="crispEdges" fill="#3f0a65"/><rect x="208.75" y="324.77" width="2.77" height="2.77" shape-rendering="crispEdges" fill="#260a4a"/><rect x="211.02" y="324.77" width="2.77" height="2.77" shape-rendering="crispEdges" fill="#230a47"/><rect x="213.30" y="324.77" width="2.77" height="2.77" shape-rendering="crispEdges" fill="#0a051d"/><rect x="215.57" y="324.77" width="2.77" height="2.77" shape-rendering="crispEdges" fill="#040210"/><rect x="217.85" y="324.77" width="2.77" height="2.77" shape-rendering="crispEdges" fill="#1c0a40"/><rect x="220.12" y="324.77" width="2.77" height="2.77" shape-rendering="crispEdges" fill="#060314"/><rect x="222.40" y="324.77" width="2.77" height="2.77" shape-rendering="crispEdges" fill="#0b0520"/><rect x="224.67" y="324.77" width="2.77" height="2.77" shape-rendering="crispEdges" fill="#0d0625"/><rect x="226.95" y="324.77" width="2.77" height="2.77" shape-rendering="crispEdges" fill="#050211"/><rect x="229.22" y="324.77" width="2.77" height="2.77" shape-rendering="crispEdges" fill="#170a3a"/><rect x="231.50" y="324.77" width="2.77" height="2.77" shape-rendering="crispEdges" fill="#b53456"/><rect x="233.77" y="324.77" width="2.77" height="2.77" shape-rendering="crispEdges" fill="#1b0a3f"/><rect x="236.05" y="324.77" width="2.77" height="2.77" shape-rendering="crispEdges" fill="#250a49"/><rect x="238.32" y="324.77" width="2.77" height="2.77" shape-rendering="crispEdges" fill="#1a0a3d"/><rect x="204.20" y="327.04" width="2.77" height="2.77" shape-rendering="crispEdges" fill="#270a4b"/><rect x="206.47" y="327.04" width="2.77" height="2.77" shape-rendering="crispEdges" fill="#170a3a"/><rect x="208.75" y="327.04" width="2.77" height="2.77" shape-rendering="crispEdges" fill="#0f0729"/><rect x="211.02" y="327.04" width="2.77" height="2.77" shape-rendering="crispEdges" fill="#410a67"/><rect x="213.30" y="327.04" width="2.77" height="2.77" shape-rendering="crispEdges" fill="#410a67"/><rect x="215.57" y="327.04" width="2.77" height="2.77" shape-rendering="crispEdges" fill="#350a5a"/><rect x="217.85" y="327.04" width="2.77" height="2.77" shape-rendering="crispEdges" fill="#dc503a"/><rect x="220.12" y="327.04" width="2.77" height="2.77" shape-rendering="crispEdges" fill="#912567"/><rect x="222.40" y="327.04" width="2.77" height="2.77" shape-rendering="crispEdges" fill="#761b6b"/><rect x="224.67" y="327.04" width="2.77" height="2.77" shape-rendering="crispEdges" fill="#ae315a"/><rect x="226.95" y="327.04" width="2.77" height="2.77" shape-rendering="crispEdges" fill="#ac305b"/><rect x="229.22" y="327.04" width="2.77" height="2.77" shape-rendering="crispEdges" fill="#fba90f"/><rect x="231.50" y="327.04" width="2.77" height="2.77" shape-rendering="crispEdges" fill="#ef711e"/><rect x="233.77" y="327.04" width="2.77" height="2.77" shape-rendering="crispEdges" fill="#400a66"/><rect x="236.05" y="327.04" width="2.77" height="2.77" shape-rendering="crispEdges" fill="#140a34"/><rect x="238.32" y="327.04" width="2.77" height="2.77" shape-rendering="crispEdges" fill="#070315"/><rect x="204.20" y="329.31" width="2.77" height="2.77" shape-rendering="crispEdges" fill="#240a48"/><rect x="206.47" y="329.31" width="2.77" height="2.77" shape-rendering="crispEdges" fill="#300a55"/><rect x="208.75" y="329.31" width="2.77" height="2.77" shape-rendering="crispEdges" fill="#0f0728"/><rect x="211.02" y="329.31" width="2.77" height="2.77" shape-rendering="crispEdges" fill="#070316"/><rect x="213.30" y="329.31" width="2.77" height="2.77" shape-rendering="crispEdges" fill="#11082e"/><rect x="215.57" y="329.31" width="2.77" height="2.77" shape-rendering="crispEdges" fill="#3f0a64"/><rect x="217.85" y="329.31" width="2.77" height="2.77" shape-rendering="crispEdges" fill="#e15833"/><rect x="220.12" y="329.31" width="2.77" height="2.77" shape-rendering="crispEdges" fill="#942666"/><rect x="222.40" y="329.31" width="2.77" height="2.77" shape-rendering="crispEdges" fill="#741a6c"/><rect x="224.67" y="329.31" width="2.77" height="2.77" shape-rendering="crispEdges" fill="#882268"/><rect x="226.95" y="329.31" width="2.77" height="2.77" shape-rendering="crispEdges" fill="#b73456"/><rect x="229.22" y="329.31" width="2.77" height="2.77" shape-rendering="crispEdges" fill="#de5337"/><rect x="231.50" y="329.31" width="2.77" height="2.77" shape-rendering="crispEdges" fill="#d34941"/><rect x="233.77" y="329.31" width="2.77" height="2.77" shape-rendering="crispEdges" fill="#150a36"/><rect x="236.05" y="329.31" width="2.77" height="2.77" shape-rendering="crispEdges" fill="#0c0622"/><rect x="238.32" y="329.31" width="2.77" height="2.77" shape-rendering="crispEdges" fill="#0f0728"/><rect x="204.20" y="331.57" width="2.77" height="2.77" shape-rendering="crispEdges" fill="#3f0a65"/><rect x="206.47" y="331.57" width="2.77" height="2.77" shape-rendering="crispEdges" fill="#320a57"/><rect x="208.75" y="331.57" width="2.77" height="2.77" shape-rendering="crispEdges" fill="#10082b"/><rect x="211.02" y="331.57" width="2.77" height="2.77" shape-rendering="crispEdges" fill="#380a5e"/><rect x="213.30" y="331.57" width="2.77" height="2.77" shape-rendering="crispEdges" fill="#0c0622"/><rect x="215.57" y="331.57" width="2.77" height="2.77" shape-rendering="crispEdges" fill="#140a34"/><rect x="217.85" y="331.57" width="2.77" height="2.77" shape-rendering="crispEdges" fill="#e96726"/><rect x="220.12" y="331.57" width="2.77" height="2.77" shape-rendering="crispEdges" fill="#7b1d6b"/><rect x="222.40" y="331.57" width="2.77" height="2.77" shape-rendering="crispEdges" fill="#8e2467"/><rect x="224.67" y="331.57" width="2.77" height="2.77" shape-rendering="crispEdges" fill="#e25a31"/><rect x="226.95" y="331.57" width="2.77" height="2.77" shape-rendering="crispEdges" fill="#9d2a62"/><rect x="229.22" y="331.57" width="2.77" height="2.77" shape-rendering="crispEdges" fill="#791c6b"/><rect x="231.50" y="331.57" width="2.77" height="2.77" shape-rendering="crispEdges" fill="#932666"/><rect x="233.77" y="331.57" width="2.77" height="2.77" shape-rendering="crispEdges" fill="#aa2f5c"/><rect x="236.05" y="331.57" width="2.77" height="2.77" shape-rendering="crispEdges" fill="#f37918"/><rect x="238.32" y="331.57" width="2.77" height="2.77" shape-rendering="crispEdges" fill="#200a44"/><rect x="204.20" y="333.84" width="2.77" height="2.77" shape-rendering="crispEdges" fill="#370a5c"/><rect x="206.47" y="333.84" width="2.77" height="2.77" shape-rendering="crispEdges" fill="#0b0520"/><rect x="208.75" y="333.84" width="2.77" height="2.77" shape-rendering="crispEdges" fill="#0a051d"/><rect x="211.02" y="333.84" width="2.77" height="2.77" shape-rendering="crispEdges" fill="#3a0a60"/><rect x="213.30" y="333.84" width="2.77" height="2.77" shape-rendering="crispEdges" fill="#330a58"/><rect x="215.57" y="333.84" width="2.77" height="2.77" shape-rendering="crispEdges" fill="#0e0726"/><rect x="217.85" y="333.84" width="2.77" height="2.77" shape-rendering="crispEdges" fill="#8a2268"/><rect x="220.12" y="333.84" width="2.77" height="2.77" shape-rendering="crispEdges" fill="#f1761a"/><rect x="222.40" y="333.84" width="2.77" height="2.77" shape-rendering="crispEdges" fill="#f27719"/><rect x="224.67" y="333.84" width="2.77" height="2.77" shape-rendering="crispEdges" fill="#cd4446"/><rect x="226.95" y="333.84" width="2.77" height="2.77" shape-rendering="crispEdges" fill="#f6dc53"/><rect x="229.22" y="333.84" width="2.77" height="2.77" shape-rendering="crispEdges" fill="#932666"/><rect x="231.50" y="333.84" width="2.77" height="2.77" shape-rendering="crispEdges" fill="#962765"/><rect x="233.77" y="333.84" width="2.77" height="2.77" shape-rendering="crispEdges" fill="#cc4446"/><rect x="236.05" y="333.84" width="2.77" height="2.77" shape-rendering="crispEdges" fill="#882268"/><rect x="238.32" y="333.84" width="2.77" height="2.77" shape-rendering="crispEdges" fill="#751b6b"/><rect x="204.20" y="336.11" width="2.77" height="2.77" shape-rendering="crispEdges" fill="#1f0a42"/><rect x="206.47" y="336.11" width="2.77" height="2.77" shape-rendering="crispEdges" fill="#360a5b"/><rect x="208.75" y="336.11" width="2.77" height="2.77" shape-rendering="crispEdges" fill="#230a47"/><rect x="211.02" y="336.11" width="2.77" height="2.77" shape-rendering="crispEdges" fill="#0f0729"/><rect x="213.30" y="336.11" width="2.77" height="2.77" shape-rendering="crispEdges" fill="#3b0a61"/><rect x="215.57" y="336.11" width="2.77" height="2.77" shape-rendering="crispEdges" fill="#0c0622"/><rect x="217.85" y="336.11" width="2.77" height="2.77" shape-rendering="crispEdges" fill="#6c186d"/><rect x="220.12" y="336.11" width="2.77" height="2.77" shape-rendering="crispEdges" fill="#fba70c"/><rect x="222.40" y="336.11" width="2.77" height="2.77" shape-rendering="crispEdges" fill="#a92f5c"/><rect x="224.67" y="336.11" width="2.77" height="2.77" shape-rendering="crispEdges" fill="#801f6a"/><rect x="226.95" y="336.11" width="2.77" height="2.77" shape-rendering="crispEdges" fill="#ed6d21"/><rect x="229.22" y="336.11" width="2.77" height="2.77" shape-rendering="crispEdges" fill="#d54a40"/><rect x="231.50" y="336.11" width="2.77" height="2.77" shape-rendering="crispEdges" fill="#cb4248"/><rect x="233.77" y="336.11" width="2.77" height="2.77" shape-rendering="crispEdges" fill="#f6d94c"/><rect x="236.05" y="336.11" width="2.77" height="2.77" shape-rendering="crispEdges" fill="#db4f3b"/><rect x="238.32" y="336.11" width="2.77" height="2.77" shape-rendering="crispEdges" fill="#6d186d"/><rect x="204.20" y="338.38" width="2.77" height="2.77" shape-rendering="crispEdges" fill="#180a3c"/><rect x="206.47" y="338.38" width="2.77" height="2.77" shape-rendering="crispEdges" fill="#2c0a51"/><rect x="208.75" y="338.38" width="2.77" height="2.77" shape-rendering="crispEdges" fill="#11082d"/><rect x="211.02" y="338.38" width="2.77" height="2.77" shape-rendering="crispEdges" fill="#410a67"/><rect x="213.30" y="338.38" width="2.77" height="2.77" shape-rendering="crispEdges" fill="#070315"/><rect x="215.57" y="338.38" width="2.77" height="2.77" shape-rendering="crispEdges" fill="#1e0a41"/><rect x="217.85" y="338.38" width="2.77" height="2.77" shape-rendering="crispEdges" fill="#df5436"/><rect x="220.12" y="338.38" width="2.77" height="2.77" shape-rendering="crispEdges" fill="#df5436"/><rect x="222.40" y="338.38" width="2.77" height="2.77" shape-rendering="crispEdges" fill="#e45d2f"/><rect x="224.67" y="338.38" width="2.77" height="2.77" shape-rendering="crispEdges" fill="#a62e5d"/><rect x="226.95" y="338.38" width="2.77" height="2.77" shape-rendering="crispEdges" fill="#ee6f20"/><rect x="229.22" y="338.38" width="2.77" height="2.77" shape-rendering="crispEdges" fill="#b13258"/><rect x="231.50" y="338.38" width="2.77" height="2.77" shape-rendering="crispEdges" fill="#ea6925"/><rect x="233.77" y="338.38" width="2.77" height="2.77" shape-rendering="crispEdges" fill="#d04743"/><rect x="236.05" y="338.38" width="2.77" height="2.77" shape-rendering="crispEdges" fill="#ca4248"/><rect x="238.32" y="338.38" width="2.77" height="2.77" shape-rendering="crispEdges" fill="#771c6b"/><rect x="204.20" y="340.65" width="2.77" height="2.77" shape-rendering="crispEdges" fill="#410a67"/><rect x="206.47" y="340.65" width="2.77" height="2.77" shape-rendering="crispEdges" fill="#380a5d"/><rect x="208.75" y="340.65" width="2.77" height="2.77" shape-rendering="crispEdges" fill="#2c0a51"/><rect x="211.02" y="340.65" width="2.77" height="2.77" shape-rendering="crispEdges" fill="#130933"/><rect x="213.30" y="340.65" width="2.77" height="2.77" shape-rendering="crispEdges" fill="#2d0a51"/><rect x="215.57" y="340.65" width="2.77" height="2.77" shape-rendering="crispEdges" fill="#ca4248"/><rect x="217.85" y="340.65" width="2.77" height="2.77" shape-rendering="crispEdges" fill="#e86528"/><rect x="220.12" y="340.65" width="2.77" height="2.77" shape-rendering="crispEdges" fill="#f8c530"/><rect x="222.40" y="340.65" width="2.77" height="2.77" shape-rendering="crispEdges" fill="#bc3753"/><rect x="224.67" y="340.65" width="2.77" height="2.77" shape-rendering="crispEdges" fill="#da4f3b"/><rect x="226.95" y="340.65" width="2.77" height="2.77" shape-rendering="crispEdges" fill="#cf4644"/><rect x="229.22" y="340.65" width="2.77" height="2.77" shape-rendering="crispEdges" fill="#fab017"/><rect x="231.50" y="340.65" width="2.77" height="2.77" shape-rendering="crispEdges" fill="#d74d3d"/><rect x="233.77" y="340.65" width="2.77" height="2.77" shape-rendering="crispEdges" fill="#872169"/><rect x="236.05" y="340.65" width="2.77" height="2.77" shape-rendering="crispEdges" fill="#d54b3f"/><rect x="238.32" y="340.65" width="2.77" height="2.77" shape-rendering="crispEdges" fill="#ed6e21"/><rect x="204.20" y="342.92" width="2.77" height="2.77" shape-rendering="crispEdges" fill="#270a4b"/><rect x="206.47" y="342.92" width="2.77" height="2.77" shape-rendering="crispEdges" fill="#0c0621"/><rect x="208.75" y="342.92" width="2.77" height="2.77" shape-rendering="crispEdges" fill="#150a37"/><rect x="211.02" y="342.92" width="2.77" height="2.77" shape-rendering="crispEdges" fill="#320a57"/><rect x="213.30" y="342.92" width="2.77" height="2.77" shape-rendering="crispEdges" fill="#3b0a60"/><rect x="215.57" y="342.92" width="2.77" height="2.77" shape-rendering="crispEdges" fill="#380a5d"/><rect x="217.85" y="342.92" width="2.77" height="2.77" shape-rendering="crispEdges" fill="#130933"/><rect x="220.12" y="342.92" width="2.77" height="2.77" shape-rendering="crispEdges" fill="#ca4248"/><rect x="222.40" y="342.92" width="2.77" height="2.77" shape-rendering="crispEdges" fill="#811f69"/><rect x="224.67" y="342.92" width="2.77" height="2.77" shape-rendering="crispEdges" fill="#e86528"/><rect x="226.95" y="342.92" width="2.77" height="2.77" shape-rendering="crispEdges" fill="#dc503a"/><rect x="229.22" y="342.92" width="2.77" height="2.77" shape-rendering="crispEdges" fill="#992863"/><rect x="231.50" y="342.92" width="2.77" height="2.77" shape-rendering="crispEdges" fill="#b73556"/><rect x="233.77" y="342.92" width="2.77" height="2.77" shape-rendering="crispEdges" fill="#8e2467"/><rect x="236.05" y="342.92" width="2.77" height="2.77" shape-rendering="crispEdges" fill="#d04743"/><rect x="238.32" y="342.92" width="2.77" height="2.77" shape-rendering="crispEdges" fill="#a02b60"/><rect x="204.20" y="345.19" width="2.77" height="2.77" shape-rendering="crispEdges" fill="#420a68"/><rect x="206.47" y="345.19" width="2.77" height="2.77" shape-rendering="crispEdges" fill="#210a45"/><rect x="208.75" y="345.19" width="2.77" height="2.77" shape-rendering="crispEdges" fill="#220a45"/><rect x="211.02" y="345.19" width="2.77" height="2.77" shape-rendering="crispEdges" fill="#4b0c69"/><rect x="213.30" y="345.19" width="2.77" height="2.77" shape-rendering="crispEdges" fill="#5a126b"/><rect x="215.57" y="345.19" width="2.77" height="2.77" shape-rendering="crispEdges" fill="#290a4d"/><rect x="217.85" y="345.19" width="2.77" height="2.77" shape-rendering="crispEdges" fill="#200a44"/><rect x="220.12" y="345.19" width="2.77" height="2.77" shape-rendering="crispEdges" fill="#e7632a"/><rect x="222.40" y="345.19" width="2.77" height="2.77" shape-rendering="crispEdges" fill="#f7c732"/><rect x="224.67" y="345.19" width="2.77" height="2.77" shape-rendering="crispEdges" fill="#b63456"/><rect x="226.95" y="345.19" width="2.77" height="2.77" shape-rendering="crispEdges" fill="#d44a40"/><rect x="229.22" y="345.19" width="2.77" height="2.77" shape-rendering="crispEdges" fill="#f37918"/><rect x="231.50" y="345.19" width="2.77" height="2.77" shape-rendering="crispEdges" fill="#8c2368"/><rect x="233.77" y="345.19" width="2.77" height="2.77" shape-rendering="crispEdges" fill="#f9bc25"/><rect x="236.05" y="345.19" width="2.77" height="2.77" shape-rendering="crispEdges" fill="#dc503a"/><rect x="238.32" y="345.19" width="2.77" height="2.77" shape-rendering="crispEdges" fill="#982864"/><rect x="204.20" y="347.46" width="2.77" height="2.77" shape-rendering="crispEdges" fill="#470b68"/><rect x="206.47" y="347.46" width="2.77" height="2.77" shape-rendering="crispEdges" fill="#58116b"/><rect x="208.75" y="347.46" width="2.77" height="2.77" shape-rendering="crispEdges" fill="#5b126b"/><rect x="211.02" y="347.46" width="2.77" height="2.77" shape-rendering="crispEdges" fill="#250a49"/><rect x="213.30" y="347.46" width="2.77" height="2.77" shape-rendering="crispEdges" fill="#56106b"/><rect x="215.57" y="347.46" width="2.77" height="2.77" shape-rendering="crispEdges" fill="#420a68"/><rect x="217.85" y="347.46" width="2.77" height="2.77" shape-rendering="crispEdges" fill="#d04743"/><rect x="220.12" y="347.46" width="2.77" height="2.77" shape-rendering="crispEdges" fill="#aa2f5b"/><rect x="222.40" y="347.46" width="2.77" height="2.77" shape-rendering="crispEdges" fill="#ec6c23"/><rect x="224.67" y="347.46" width="2.77" height="2.77" shape-rendering="crispEdges" fill="#f2761a"/><rect x="226.95" y="347.46" width="2.77" height="2.77" shape-rendering="crispEdges" fill="#d44a40"/><rect x="229.22" y="347.46" width="2.77" height="2.77" shape-rendering="crispEdges" fill="#dd5238"/><rect x="231.50" y="347.46" width="2.77" height="2.77" shape-rendering="crispEdges" fill="#d24941"/><rect x="233.77" y="347.46" width="2.77" height="2.77" shape-rendering="crispEdges" fill="#8e2467"/><rect x="236.05" y="347.46" width="2.77" height="2.77" shape-rendering="crispEdges" fill="#f47d17"/><rect x="238.32" y="347.46" width="2.77" height="2.77" shape-rendering="crispEdges" fill="#c43d4d"/><rect x="204.20" y="349.73" width="2.77" height="2.77" shape-rendering="crispEdges" fill="#63146d"/><rect x="206.47" y="349.73" width="2.77" height="2.77" shape-rendering="crispEdges" fill="#3a0a5f"/><rect x="208.75" y="349.73" width="2.77" height="2.77" shape-rendering="crispEdges" fill="#410a67"/><rect x="211.02" y="349.73" width="2.77" height="2.77" shape-rendering="crispEdges" fill="#59116b"/><rect x="213.30" y="349.73" width="2.77" height="2.77" shape-rendering="crispEdges" fill="#210a44"/><rect x="215.57" y="349.73" width="2.77" height="2.77" shape-rendering="crispEdges" fill="#230a47"/><rect x="217.85" y="349.73" width="2.77" height="2.77" shape-rendering="crispEdges" fill="#e45f2e"/><rect x="220.12" y="349.73" width="2.77" height="2.77" shape-rendering="crispEdges" fill="#a32c5f"/><rect x="222.40" y="349.73" width="2.77" height="2.77" shape-rendering="crispEdges" fill="#821f69"/><rect x="224.67" y="349.73" width="2.77" height="2.77" shape-rendering="crispEdges" fill="#c13b4f"/><rect x="226.95" y="349.73" width="2.77" height="2.77" shape-rendering="crispEdges" fill="#e86528"/><rect x="229.22" y="349.73" width="2.77" height="2.77" shape-rendering="crispEdges" fill="#f27619"/><rect x="231.50" y="349.73" width="2.77" height="2.77" shape-rendering="crispEdges" fill="#f27719"/><rect x="233.77" y="349.73" width="2.77" height="2.77" shape-rendering="crispEdges" fill="#902467"/><rect x="236.05" y="349.73" width="2.77" height="2.77" shape-rendering="crispEdges" fill="#9b2962"/><rect x="238.32" y="349.73" width="2.77" height="2.77" shape-rendering="crispEdges" fill="#d24842"/><rect x="204.20" y="351.99" width="2.77" height="2.77" shape-rendering="crispEdges" fill="#4a0c69"/><rect x="206.47" y="351.99" width="2.77" height="2.77" shape-rendering="crispEdges" fill="#3c0a62"/><rect x="208.75" y="351.99" width="2.77" height="2.77" shape-rendering="crispEdges" fill="#62146c"/><rect x="211.02" y="351.99" width="2.77" height="2.77" shape-rendering="crispEdges" fill="#5f136c"/><rect x="213.30" y="351.99" width="2.77" height="2.77" shape-rendering="crispEdges" fill="#470b68"/><rect x="215.57" y="351.99" width="2.77" height="2.77" shape-rendering="crispEdges" fill="#2e0a53"/><rect x="217.85" y="351.99" width="2.77" height="2.77" shape-rendering="crispEdges" fill="#c43d4d"/><rect x="220.12" y="351.99" width="2.77" height="2.77" shape-rendering="crispEdges" fill="#f6dd54"/><rect x="222.40" y="351.99" width="2.77" height="2.77" shape-rendering="crispEdges" fill="#c13b4f"/><rect x="224.67" y="351.99" width="2.77" height="2.77" shape-rendering="crispEdges" fill="#e55f2d"/><rect x="226.95" y="351.99" width="2.77" height="2.77" shape-rendering="crispEdges" fill="#be3852"/><rect x="229.22" y="351.99" width="2.77" height="2.77" shape-rendering="crispEdges" fill="#751b6c"/><rect x="231.50" y="351.99" width="2.77" height="2.77" shape-rendering="crispEdges" fill="#b13258"/><rect x="233.77" y="351.99" width="2.77" height="2.77" shape-rendering="crispEdges" fill="#f0731d"/><rect x="236.05" y="351.99" width="2.77" height="2.77" shape-rendering="crispEdges" fill="#bb3654"/><rect x="238.32" y="351.99" width="2.77" height="2.77" shape-rendering="crispEdges" fill="#b43357"/><rect x="204.20" y="354.26" width="2.77" height="2.77" shape-rendering="crispEdges" fill="#440a68"/><rect x="206.47" y="354.26" width="2.77" height="2.77" shape-rendering="crispEdges" fill="#2d0a52"/><rect x="208.75" y="354.26" width="2.77" height="2.77" shape-rendering="crispEdges" fill="#64156d"/><rect x="211.02" y="354.26" width="2.77" height="2.77" shape-rendering="crispEdges" fill="#5a116b"/><rect x="213.30" y="354.26" width="2.77" height="2.77" shape-rendering="crispEdges" fill="#2e0a52"/><rect x="215.57" y="354.26" width="2.77" height="2.77" shape-rendering="crispEdges" fill="#530f6a"/><rect x="217.85" y="354.26" width="2.77" height="2.77" shape-rendering="crispEdges" fill="#a12b60"/><rect x="220.12" y="354.26" width="2.77" height="2.77" shape-rendering="crispEdges" fill="#cf4644"/><rect x="222.40" y="354.26" width="2.77" height="2.77" shape-rendering="crispEdges" fill="#de5337"/><rect x="224.67" y="354.26" width="2.77" height="2.77" shape-rendering="crispEdges" fill="#c03a50"/><rect x="226.95" y="354.26" width="2.77" height="2.77" shape-rendering="crispEdges" fill="#8c2368"/><rect x="229.22" y="354.26" width="2.77" height="2.77" shape-rendering="crispEdges" fill="#b53457"/><rect x="231.50" y="354.26" width="2.77" height="2.77" shape-rendering="crispEdges" fill="#b13259"/><rect x="233.77" y="354.26" width="2.77" height="2.77" shape-rendering="crispEdges" fill="#852169"/><rect x="236.05" y="354.26" width="2.77" height="2.77" shape-rendering="crispEdges" fill="#d14743"/><rect x="238.32" y="354.26" width="2.77" height="2.77" shape-rendering="crispEdges" fill="#c33c4e"/><rect x="204.20" y="356.53" width="2.77" height="2.77" shape-rendering="crispEdges" fill="#5f136c"/><rect x="206.47" y="356.53" width="2.77" height="2.77" shape-rendering="crispEdges" fill="#57106b"/><rect x="208.75" y="356.53" width="2.77" height="2.77" shape-rendering="crispEdges" fill="#62146c"/><rect x="211.02" y="356.53" width="2.77" height="2.77" shape-rendering="crispEdges" fill="#370a5d"/><rect x="213.30" y="356.53" width="2.77" height="2.77" shape-rendering="crispEdges" fill="#300a54"/><rect x="215.57" y="356.53" width="2.77" height="2.77" shape-rendering="crispEdges" fill="#61146c"/><rect x="217.85" y="356.53" width="2.77" height="2.77" shape-rendering="crispEdges" fill="#811f6a"/><rect x="220.12" y="356.53" width="2.77" height="2.77" shape-rendering="crispEdges" fill="#de5338"/><rect x="222.40" y="356.53" width="2.77" height="2.77" shape-rendering="crispEdges" fill="#7a1d6b"/><rect x="224.67" y="356.53" width="2.77" height="2.77" shape-rendering="crispEdges" fill="#b23358"/><rect x="226.95" y="356.53" width="2.77" height="2.77" shape-rendering="crispEdges" fill="#7f1e6a"/><rect x="229.22" y="356.53" width="2.77" height="2.77" shape-rendering="crispEdges" fill="#fba90e"/><rect x="231.50" y="356.53" width="2.77" height="2.77" shape-rendering="crispEdges" fill="#d84d3d"/><rect x="233.77" y="356.53" width="2.77" height="2.77" shape-rendering="crispEdges" fill="#f37b17"/><rect x="236.05" y="356.53" width="2.77" height="2.77" shape-rendering="crispEdges" fill="#c03a50"/><rect x="238.32" y="356.53" width="2.77" height="2.77" shape-rendering="crispEdges" fill="#bf3951"/>
<rect x="264.2" y="322.5" width="37.6" height="36.4" fill="#000"/>
<path d="M278.4,326.6 L287.1,326.6 L287.1,324.1 L294.3,324.1 L294.3,326.6 L296.5,326.6 L296.5,331.3 L299.5,331.3 L299.5,333.2 L301.8,333.2 L301.8,358.9 L276.2,358.9 L276.2,355.6 L278.4,355.6 L278.4,352.3 L276.2,352.3 L276.2,351.3 L278.4,351.3 L278.4,347.4 L280.6,347.4 L280.6,343.0 L278.4,343.0 L278.4,338.7 L276.2,338.7 L276.2,332.6 L278.4,332.6 L278.4,331.3 L280.6,331.3 L280.6,328.8 L278.4,328.8Z" fill="#fff"/>
<rect x="264.2" y="322.5" width="37.6" height="36.4" fill="none" stroke="#777" stroke-width="0.9"/>
<rect x="327.2" y="322.5" width="36.5" height="36.5" fill="#3535a0"/>
<rect x="327.2" y="345.1" width="36.5" height="13.9" fill="#2a2e80"/>
<clipPath id="fc0"><path d="M341.5,330.7 L341.4,328.9 L342.1,327.2 L343.4,326.4 L345.0,326.9 L346.0,328.2 L347.7,327.9 L350.5,327.4 L352.6,327.9 L352.9,326.4 L354.2,325.4 L356.1,325.3 L357.5,326.4 L358.0,328.4 L357.8,330.7 L359.6,332.2 L361.8,333.4 L363.7,334.7 L363.7,359.0 L339.9,359.0 L340.4,354.0 L341.5,348.5 L342.6,344.9 L343.4,343.7 L342.3,343.7 L341.0,343.5 L339.6,343.2 L338.3,342.2 L338.0,340.9 L338.8,339.9 L339.9,339.7 L340.4,338.5 L339.6,336.4 L340.1,334.4 L340.7,332.7Z"/></clipPath>
<path d="M341.5,330.7 L341.4,328.9 L342.1,327.2 L343.4,326.4 L345.0,326.9 L346.0,328.2 L347.7,327.9 L350.5,327.4 L352.6,327.9 L352.9,326.4 L354.2,325.4 L356.1,325.3 L357.5,326.4 L358.0,328.4 L357.8,330.7 L359.6,332.2 L361.8,333.4 L363.7,334.7 L363.7,359.0 L339.9,359.0 L340.4,354.0 L341.5,348.5 L342.6,344.9 L343.4,343.7 L342.3,343.7 L341.0,343.5 L339.6,343.2 L338.3,342.2 L338.0,340.9 L338.8,339.9 L339.9,339.7 L340.4,338.5 L339.6,336.4 L340.1,334.4 L340.7,332.7Z" fill="url(#rfur2)"/>
<g clip-path="url(#fc0)">
<ellipse cx="349.8" cy="333.4" rx="8.0" ry="5.1" fill="#b04a30" filter="url(#bls)"/>
<ellipse cx="342.9" cy="338.9" rx="4.0" ry="2.0" transform="rotate(-25 342.9 338.9)" fill="#c4664c" filter="url(#bls2)"/>
<ellipse cx="347.3" cy="344.4" rx="5.1" ry="3.3" fill="#6a1a0e" filter="url(#bls)"/>
<ellipse cx="345.4" cy="354.6" rx="5.5" ry="4.4" fill="#6a1a0e" filter="url(#bls)"/>
<ellipse cx="358.2" cy="344.4" rx="3.7" ry="7.3" fill="#9a3420" filter="url(#bls)"/>
<ellipse cx="354.6" cy="327.2" rx="1.8" ry="1.8" fill="#7a2414" filter="url(#bls2)"/>
<ellipse cx="343.3" cy="328.0" rx="1.5" ry="1.5" fill="#7a2414" filter="url(#bls2)"/>
</g>
<ellipse cx="346.5" cy="335.5" rx="0.74" ry="0.49" fill="#4a1010"/>
<ellipse cx="339.1" cy="340.9" rx="1.24" ry="1.07" fill="#4a1010"/>
<path d="M358.7,348.8 C359.3,350.9 362.1,351.7 361.6,354.7 C361.2,357.0 356.2,357.0 355.8,354.7 C355.6,352.6 357.2,352.2 357.4,350.7 C358.3,350.9 358.5,349.9 358.7,348.8Z" fill="#f26a1b"/><ellipse cx="358.7" cy="354.9" rx="1.6" ry="1.8" fill="#ffd84a"/><ellipse cx="358.7" cy="355.3" rx="0.8" ry="1.1" fill="#fff6c0"/>
<line x1="334.2" y1="324.5" x2="334.2" y2="333.5" stroke="#bfe3ff" stroke-width="1.2"/><line x1="338.1" y1="326.8" x2="330.3" y2="331.2" stroke="#bfe3ff" stroke-width="1.2"/><line x1="338.1" y1="331.2" x2="330.3" y2="326.8" stroke="#bfe3ff" stroke-width="1.2"/><circle cx="334.2" cy="329.0" r="2.7" fill="none" stroke="#9fd0f5" stroke-width="0.8"/>
<polyline points="242.5,339.2 262.5,339.2" fill="none" stroke="#f4b183" stroke-width="2.5" stroke-linecap="round" stroke-linejoin="round"/>
<polyline points="254.5,343.8 262.5,339.2 254.5,334.6" fill="none" stroke="#f4b183" stroke-width="2.5" stroke-linecap="round" stroke-linejoin="round"/>
<polyline points="304.2,339.2 325.7,339.2" fill="none" stroke="#ffe18f" stroke-width="2.5" stroke-linecap="round" stroke-linejoin="round"/>
<polyline points="317.7,343.8 325.7,339.2 317.7,334.6" fill="none" stroke="#ffe18f" stroke-width="2.5" stroke-linecap="round" stroke-linejoin="round"/>
<rect x="203.80" y="377.90" width="2.77" height="2.77" shape-rendering="crispEdges" fill="#180a3b"/><rect x="206.08" y="377.90" width="2.77" height="2.77" shape-rendering="crispEdges" fill="#260a4b"/><rect x="208.35" y="377.90" width="2.77" height="2.77" shape-rendering="crispEdges" fill="#270a4b"/><rect x="210.62" y="377.90" width="2.77" height="2.77" shape-rendering="crispEdges" fill="#0a051c"/><rect x="212.90" y="377.90" width="2.77" height="2.77" shape-rendering="crispEdges" fill="#04020f"/><rect x="215.18" y="377.90" width="2.77" height="2.77" shape-rendering="crispEdges" fill="#130932"/><rect x="217.45" y="377.90" width="2.77" height="2.77" shape-rendering="crispEdges" fill="#0f0728"/><rect x="219.73" y="377.90" width="2.77" height="2.77" shape-rendering="crispEdges" fill="#320a57"/><rect x="222.00" y="377.90" width="2.77" height="2.77" shape-rendering="crispEdges" fill="#290a4d"/><rect x="224.28" y="377.90" width="2.77" height="2.77" shape-rendering="crispEdges" fill="#220a46"/><rect x="226.55" y="377.90" width="2.77" height="2.77" shape-rendering="crispEdges" fill="#1f0a42"/><rect x="228.83" y="377.90" width="2.77" height="2.77" shape-rendering="crispEdges" fill="#270a4b"/><rect x="231.10" y="377.90" width="2.77" height="2.77" shape-rendering="crispEdges" fill="#0a051c"/><rect x="233.38" y="377.90" width="2.77" height="2.77" shape-rendering="crispEdges" fill="#150a38"/><rect x="235.65" y="377.90" width="2.77" height="2.77" shape-rendering="crispEdges" fill="#0a051e"/><rect x="237.93" y="377.90" width="2.77" height="2.77" shape-rendering="crispEdges" fill="#3a0a60"/><rect x="203.80" y="380.17" width="2.77" height="2.77" shape-rendering="crispEdges" fill="#060314"/><rect x="206.08" y="380.17" width="2.77" height="2.77" shape-rendering="crispEdges" fill="#330a58"/><rect x="208.35" y="380.17" width="2.77" height="2.77" shape-rendering="crispEdges" fill="#070315"/><rect x="210.62" y="380.17" width="2.77" height="2.77" shape-rendering="crispEdges" fill="#290a4d"/><rect x="212.90" y="380.17" width="2.77" height="2.77" shape-rendering="crispEdges" fill="#11082e"/><rect x="215.18" y="380.17" width="2.77" height="2.77" shape-rendering="crispEdges" fill="#140a35"/><rect x="217.45" y="380.17" width="2.77" height="2.77" shape-rendering="crispEdges" fill="#350a5a"/><rect x="219.73" y="380.17" width="2.77" height="2.77" shape-rendering="crispEdges" fill="#050210"/><rect x="222.00" y="380.17" width="2.77" height="2.77" shape-rendering="crispEdges" fill="#060314"/><rect x="224.28" y="380.17" width="2.77" height="2.77" shape-rendering="crispEdges" fill="#3b0a60"/><rect x="226.55" y="380.17" width="2.77" height="2.77" shape-rendering="crispEdges" fill="#1b0a3e"/><rect x="228.83" y="380.17" width="2.77" height="2.77" shape-rendering="crispEdges" fill="#080417"/><rect x="231.10" y="380.17" width="2.77" height="2.77" shape-rendering="crispEdges" fill="#f47e16"/><rect x="233.38" y="380.17" width="2.77" height="2.77" shape-rendering="crispEdges" fill="#080419"/><rect x="235.65" y="380.17" width="2.77" height="2.77" shape-rendering="crispEdges" fill="#150a36"/><rect x="237.93" y="380.17" width="2.77" height="2.77" shape-rendering="crispEdges" fill="#09041b"/><rect x="203.80" y="382.44" width="2.77" height="2.77" shape-rendering="crispEdges" fill="#10082c"/><rect x="206.08" y="382.44" width="2.77" height="2.77" shape-rendering="crispEdges" fill="#240a47"/><rect x="208.35" y="382.44" width="2.77" height="2.77" shape-rendering="crispEdges" fill="#0a051e"/><rect x="210.62" y="382.44" width="2.77" height="2.77" shape-rendering="crispEdges" fill="#290a4e"/><rect x="212.90" y="382.44" width="2.77" height="2.77" shape-rendering="crispEdges" fill="#060313"/><rect x="215.18" y="382.44" width="2.77" height="2.77" shape-rendering="crispEdges" fill="#0b051e"/><rect x="217.45" y="382.44" width="2.77" height="2.77" shape-rendering="crispEdges" fill="#e6612b"/><rect x="219.73" y="382.44" width="2.77" height="2.77" shape-rendering="crispEdges" fill="#b23258"/><rect x="222.00" y="382.44" width="2.77" height="2.77" shape-rendering="crispEdges" fill="#bc3753"/><rect x="224.28" y="382.44" width="2.77" height="2.77" shape-rendering="crispEdges" fill="#6f186d"/><rect x="226.55" y="382.44" width="2.77" height="2.77" shape-rendering="crispEdges" fill="#f37a18"/><rect x="228.83" y="382.44" width="2.77" height="2.77" shape-rendering="crispEdges" fill="#d54b3f"/><rect x="231.10" y="382.44" width="2.77" height="2.77" shape-rendering="crispEdges" fill="#a82e5d"/><rect x="233.38" y="382.44" width="2.77" height="2.77" shape-rendering="crispEdges" fill="#280a4c"/><rect x="235.65" y="382.44" width="2.77" height="2.77" shape-rendering="crispEdges" fill="#080419"/><rect x="237.93" y="382.44" width="2.77" height="2.77" shape-rendering="crispEdges" fill="#0d0625"/><rect x="203.80" y="384.71" width="2.77" height="2.77" shape-rendering="crispEdges" fill="#120931"/><rect x="206.08" y="384.71" width="2.77" height="2.77" shape-rendering="crispEdges" fill="#1b0a3e"/><rect x="208.35" y="384.71" width="2.77" height="2.77" shape-rendering="crispEdges" fill="#320a57"/><rect x="210.62" y="384.71" width="2.77" height="2.77" shape-rendering="crispEdges" fill="#1a0a3d"/><rect x="212.90" y="384.71" width="2.77" height="2.77" shape-rendering="crispEdges" fill="#050211"/><rect x="215.18" y="384.71" width="2.77" height="2.77" shape-rendering="crispEdges" fill="#330a58"/><rect x="217.45" y="384.71" width="2.77" height="2.77" shape-rendering="crispEdges" fill="#b43357"/><rect x="219.73" y="384.71" width="2.77" height="2.77" shape-rendering="crispEdges" fill="#902467"/><rect x="222.00" y="384.71" width="2.77" height="2.77" shape-rendering="crispEdges" fill="#ac305b"/><rect x="224.28" y="384.71" width="2.77" height="2.77" shape-rendering="crispEdges" fill="#7b1d6a"/><rect x="226.55" y="384.71" width="2.77" height="2.77" shape-rendering="crispEdges" fill="#882268"/><rect x="228.83" y="384.71" width="2.77" height="2.77" shape-rendering="crispEdges" fill="#70196c"/><rect x="231.10" y="384.71" width="2.77" height="2.77" shape-rendering="crispEdges" fill="#a52d5e"/><rect x="233.38" y="384.71" width="2.77" height="2.77" shape-rendering="crispEdges" fill="#060313"/><rect x="235.65" y="384.71" width="2.77" height="2.77" shape-rendering="crispEdges" fill="#170a3a"/><rect x="237.93" y="384.71" width="2.77" height="2.77" shape-rendering="crispEdges" fill="#0c0622"/><rect x="203.80" y="386.97" width="2.77" height="2.77" shape-rendering="crispEdges" fill="#0f0729"/><rect x="206.08" y="386.97" width="2.77" height="2.77" shape-rendering="crispEdges" fill="#180a3b"/><rect x="208.35" y="386.97" width="2.77" height="2.77" shape-rendering="crispEdges" fill="#3e0a64"/><rect x="210.62" y="386.97" width="2.77" height="2.77" shape-rendering="crispEdges" fill="#180a3c"/><rect x="212.90" y="386.97" width="2.77" height="2.77" shape-rendering="crispEdges" fill="#3e0a64"/><rect x="215.18" y="386.97" width="2.77" height="2.77" shape-rendering="crispEdges" fill="#0b051e"/><rect x="217.45" y="386.97" width="2.77" height="2.77" shape-rendering="crispEdges" fill="#f0731c"/><rect x="219.73" y="386.97" width="2.77" height="2.77" shape-rendering="crispEdges" fill="#8a2268"/><rect x="222.00" y="386.97" width="2.77" height="2.77" shape-rendering="crispEdges" fill="#faad14"/><rect x="224.28" y="386.97" width="2.77" height="2.77" shape-rendering="crispEdges" fill="#e25a32"/><rect x="226.55" y="386.97" width="2.77" height="2.77" shape-rendering="crispEdges" fill="#fa9e0c"/><rect x="228.83" y="386.97" width="2.77" height="2.77" shape-rendering="crispEdges" fill="#cf4644"/><rect x="231.10" y="386.97" width="2.77" height="2.77" shape-rendering="crispEdges" fill="#f48016"/><rect x="233.38" y="386.97" width="2.77" height="2.77" shape-rendering="crispEdges" fill="#6e186d"/><rect x="235.65" y="386.97" width="2.77" height="2.77" shape-rendering="crispEdges" fill="#e35c2f"/><rect x="237.93" y="386.97" width="2.77" height="2.77" shape-rendering="crispEdges" fill="#250a49"/><rect x="203.80" y="389.24" width="2.77" height="2.77" shape-rendering="crispEdges" fill="#0d0624"/><rect x="206.08" y="389.24" width="2.77" height="2.77" shape-rendering="crispEdges" fill="#1c0a40"/><rect x="208.35" y="389.24" width="2.77" height="2.77" shape-rendering="crispEdges" fill="#180a3b"/><rect x="210.62" y="389.24" width="2.77" height="2.77" shape-rendering="crispEdges" fill="#240a48"/><rect x="212.90" y="389.24" width="2.77" height="2.77" shape-rendering="crispEdges" fill="#0e0727"/><rect x="215.18" y="389.24" width="2.77" height="2.77" shape-rendering="crispEdges" fill="#3d0a63"/><rect x="217.45" y="389.24" width="2.77" height="2.77" shape-rendering="crispEdges" fill="#ed6e21"/><rect x="219.73" y="389.24" width="2.77" height="2.77" shape-rendering="crispEdges" fill="#9c2962"/><rect x="222.00" y="389.24" width="2.77" height="2.77" shape-rendering="crispEdges" fill="#992863"/><rect x="224.28" y="389.24" width="2.77" height="2.77" shape-rendering="crispEdges" fill="#c13b4f"/><rect x="226.55" y="389.24" width="2.77" height="2.77" shape-rendering="crispEdges" fill="#db4f3b"/><rect x="228.83" y="389.24" width="2.77" height="2.77" shape-rendering="crispEdges" fill="#9b2963"/><rect x="231.10" y="389.24" width="2.77" height="2.77" shape-rendering="crispEdges" fill="#d84d3d"/><rect x="233.38" y="389.24" width="2.77" height="2.77" shape-rendering="crispEdges" fill="#801f6a"/><rect x="235.65" y="389.24" width="2.77" height="2.77" shape-rendering="crispEdges" fill="#b23358"/><rect x="237.93" y="389.24" width="2.77" height="2.77" shape-rendering="crispEdges" fill="#b43457"/><rect x="203.80" y="391.51" width="2.77" height="2.77" shape-rendering="crispEdges" fill="#1f0a42"/><rect x="206.08" y="391.51" width="2.77" height="2.77" shape-rendering="crispEdges" fill="#240a48"/><rect x="208.35" y="391.51" width="2.77" height="2.77" shape-rendering="crispEdges" fill="#3b0a61"/><rect x="210.62" y="391.51" width="2.77" height="2.77" shape-rendering="crispEdges" fill="#3e0a64"/><rect x="212.90" y="391.51" width="2.77" height="2.77" shape-rendering="crispEdges" fill="#2f0a53"/><rect x="215.18" y="391.51" width="2.77" height="2.77" shape-rendering="crispEdges" fill="#140a36"/><rect x="217.45" y="391.51" width="2.77" height="2.77" shape-rendering="crispEdges" fill="#cb4347"/><rect x="219.73" y="391.51" width="2.77" height="2.77" shape-rendering="crispEdges" fill="#e35d2f"/><rect x="222.00" y="391.51" width="2.77" height="2.77" shape-rendering="crispEdges" fill="#a52d5e"/><rect x="224.28" y="391.51" width="2.77" height="2.77" shape-rendering="crispEdges" fill="#de5437"/><rect x="226.55" y="391.51" width="2.77" height="2.77" shape-rendering="crispEdges" fill="#6c186d"/><rect x="228.83" y="391.51" width="2.77" height="2.77" shape-rendering="crispEdges" fill="#ee701f"/><rect x="231.10" y="391.51" width="2.77" height="2.77" shape-rendering="crispEdges" fill="#ed6f20"/><rect x="233.38" y="391.51" width="2.77" height="2.77" shape-rendering="crispEdges" fill="#c43d4d"/><rect x="235.65" y="391.51" width="2.77" height="2.77" shape-rendering="crispEdges" fill="#ab305b"/><rect x="237.93" y="391.51" width="2.77" height="2.77" shape-rendering="crispEdges" fill="#a62e5d"/><rect x="203.80" y="393.78" width="2.77" height="2.77" shape-rendering="crispEdges" fill="#3c0a62"/><rect x="206.08" y="393.78" width="2.77" height="2.77" shape-rendering="crispEdges" fill="#290a4d"/><rect x="208.35" y="393.78" width="2.77" height="2.77" shape-rendering="crispEdges" fill="#1d0a41"/><rect x="210.62" y="393.78" width="2.77" height="2.77" shape-rendering="crispEdges" fill="#240a48"/><rect x="212.90" y="393.78" width="2.77" height="2.77" shape-rendering="crispEdges" fill="#09041a"/><rect x="215.18" y="393.78" width="2.77" height="2.77" shape-rendering="crispEdges" fill="#1d0a40"/><rect x="217.45" y="393.78" width="2.77" height="2.77" shape-rendering="crispEdges" fill="#db4f3b"/><rect x="219.73" y="393.78" width="2.77" height="2.77" shape-rendering="crispEdges" fill="#942666"/><rect x="222.00" y="393.78" width="2.77" height="2.77" shape-rendering="crispEdges" fill="#a12c60"/><rect x="224.28" y="393.78" width="2.77" height="2.77" shape-rendering="crispEdges" fill="#821f69"/><rect x="226.55" y="393.78" width="2.77" height="2.77" shape-rendering="crispEdges" fill="#9f2b61"/><rect x="228.83" y="393.78" width="2.77" height="2.77" shape-rendering="crispEdges" fill="#e15833"/><rect x="231.10" y="393.78" width="2.77" height="2.77" shape-rendering="crispEdges" fill="#f1751b"/><rect x="233.38" y="393.78" width="2.77" height="2.77" shape-rendering="crispEdges" fill="#6f186d"/><rect x="235.65" y="393.78" width="2.77" height="2.77" shape-rendering="crispEdges" fill="#b63456"/><rect x="237.93" y="393.78" width="2.77" height="2.77" shape-rendering="crispEdges" fill="#d64b3f"/><rect x="203.80" y="396.05" width="2.77" height="2.77" shape-rendering="crispEdges" fill="#0d0625"/><rect x="206.08" y="396.05" width="2.77" height="2.77" shape-rendering="crispEdges" fill="#11082d"/><rect x="208.35" y="396.05" width="2.77" height="2.77" shape-rendering="crispEdges" fill="#3d0a63"/><rect x="210.62" y="396.05" width="2.77" height="2.77" shape-rendering="crispEdges" fill="#04020f"/><rect x="212.90" y="396.05" width="2.77" height="2.77" shape-rendering="crispEdges" fill="#120930"/><rect x="215.18" y="396.05" width="2.77" height="2.77" shape-rendering="crispEdges" fill="#9a2863"/><rect x="217.45" y="396.05" width="2.77" height="2.77" shape-rendering="crispEdges" fill="#b43357"/><rect x="219.73" y="396.05" width="2.77" height="2.77" shape-rendering="crispEdges" fill="#ef721d"/><rect x="222.00" y="396.05" width="2.77" height="2.77" shape-rendering="crispEdges" fill="#da4f3b"/><rect x="224.28" y="396.05" width="2.77" height="2.77" shape-rendering="crispEdges" fill="#ba3654"/><rect x="226.55" y="396.05" width="2.77" height="2.77" shape-rendering="crispEdges" fill="#e86628"/><rect x="228.83" y="396.05" width="2.77" height="2.77" shape-rendering="crispEdges" fill="#b93555"/><rect x="231.10" y="396.05" width="2.77" height="2.77" shape-rendering="crispEdges" fill="#e76429"/><rect x="233.38" y="396.05" width="2.77" height="2.77" shape-rendering="crispEdges" fill="#c43d4d"/><rect x="235.65" y="396.05" width="2.77" height="2.77" shape-rendering="crispEdges" fill="#ae315a"/><rect x="237.93" y="396.05" width="2.77" height="2.77" shape-rendering="crispEdges" fill="#d54b3f"/><rect x="203.80" y="398.32" width="2.77" height="2.77" shape-rendering="crispEdges" fill="#1e0a42"/><rect x="206.08" y="398.32" width="2.77" height="2.77" shape-rendering="crispEdges" fill="#280a4c"/><rect x="208.35" y="398.32" width="2.77" height="2.77" shape-rendering="crispEdges" fill="#120930"/><rect x="210.62" y="398.32" width="2.77" height="2.77" shape-rendering="crispEdges" fill="#2c0a51"/><rect x="212.90" y="398.32" width="2.77" height="2.77" shape-rendering="crispEdges" fill="#11082d"/><rect x="215.18" y="398.32" width="2.77" height="2.77" shape-rendering="crispEdges" fill="#1a0a3d"/><rect x="217.45" y="398.32" width="2.77" height="2.77" shape-rendering="crispEdges" fill="#120931"/><rect x="219.73" y="398.32" width="2.77" height="2.77" shape-rendering="crispEdges" fill="#9e2a61"/><rect x="222.00" y="398.32" width="2.77" height="2.77" shape-rendering="crispEdges" fill="#902567"/><rect x="224.28" y="398.32" width="2.77" height="2.77" shape-rendering="crispEdges" fill="#f6d341"/><rect x="226.55" y="398.32" width="2.77" height="2.77" shape-rendering="crispEdges" fill="#9b2963"/><rect x="228.83" y="398.32" width="2.77" height="2.77" shape-rendering="crispEdges" fill="#cc4446"/><rect x="231.10" y="398.32" width="2.77" height="2.77" shape-rendering="crispEdges" fill="#eb6b23"/><rect x="233.38" y="398.32" width="2.77" height="2.77" shape-rendering="crispEdges" fill="#a12b60"/><rect x="235.65" y="398.32" width="2.77" height="2.77" shape-rendering="crispEdges" fill="#d24842"/><rect x="237.93" y="398.32" width="2.77" height="2.77" shape-rendering="crispEdges" fill="#ce4545"/><rect x="203.80" y="400.59" width="2.77" height="2.77" shape-rendering="crispEdges" fill="#4e0e69"/><rect x="206.08" y="400.59" width="2.77" height="2.77" shape-rendering="crispEdges" fill="#3f0a64"/><rect x="208.35" y="400.59" width="2.77" height="2.77" shape-rendering="crispEdges" fill="#3d0a62"/><rect x="210.62" y="400.59" width="2.77" height="2.77" shape-rendering="crispEdges" fill="#5c126b"/><rect x="212.90" y="400.59" width="2.77" height="2.77" shape-rendering="crispEdges" fill="#2f0a53"/><rect x="215.18" y="400.59" width="2.77" height="2.77" shape-rendering="crispEdges" fill="#67166d"/><rect x="217.45" y="400.59" width="2.77" height="2.77" shape-rendering="crispEdges" fill="#220a46"/><rect x="219.73" y="400.59" width="2.77" height="2.77" shape-rendering="crispEdges" fill="#e86429"/><rect x="222.00" y="400.59" width="2.77" height="2.77" shape-rendering="crispEdges" fill="#e6622b"/><rect x="224.28" y="400.59" width="2.77" height="2.77" shape-rendering="crispEdges" fill="#de5437"/><rect x="226.55" y="400.59" width="2.77" height="2.77" shape-rendering="crispEdges" fill="#811f69"/><rect x="228.83" y="400.59" width="2.77" height="2.77" shape-rendering="crispEdges" fill="#e76429"/><rect x="231.10" y="400.59" width="2.77" height="2.77" shape-rendering="crispEdges" fill="#fab017"/><rect x="233.38" y="400.59" width="2.77" height="2.77" shape-rendering="crispEdges" fill="#6c176d"/><rect x="235.65" y="400.59" width="2.77" height="2.77" shape-rendering="crispEdges" fill="#862169"/><rect x="237.93" y="400.59" width="2.77" height="2.77" shape-rendering="crispEdges" fill="#9d2a62"/><rect x="203.80" y="402.86" width="2.77" height="2.77" shape-rendering="crispEdges" fill="#370a5c"/><rect x="206.08" y="402.86" width="2.77" height="2.77" shape-rendering="crispEdges" fill="#4d0d69"/><rect x="208.35" y="402.86" width="2.77" height="2.77" shape-rendering="crispEdges" fill="#530f6a"/><rect x="210.62" y="402.86" width="2.77" height="2.77" shape-rendering="crispEdges" fill="#420a68"/><rect x="212.90" y="402.86" width="2.77" height="2.77" shape-rendering="crispEdges" fill="#500e6a"/><rect x="215.18" y="402.86" width="2.77" height="2.77" shape-rendering="crispEdges" fill="#460b68"/><rect x="217.45" y="402.86" width="2.77" height="2.77" shape-rendering="crispEdges" fill="#d24842"/><rect x="219.73" y="402.86" width="2.77" height="2.77" shape-rendering="crispEdges" fill="#d14842"/><rect x="222.00" y="402.86" width="2.77" height="2.77" shape-rendering="crispEdges" fill="#b13258"/><rect x="224.28" y="402.86" width="2.77" height="2.77" shape-rendering="crispEdges" fill="#dd5139"/><rect x="226.55" y="402.86" width="2.77" height="2.77" shape-rendering="crispEdges" fill="#f0731c"/><rect x="228.83" y="402.86" width="2.77" height="2.77" shape-rendering="crispEdges" fill="#ea6826"/><rect x="231.10" y="402.86" width="2.77" height="2.77" shape-rendering="crispEdges" fill="#f37818"/><rect x="233.38" y="402.86" width="2.77" height="2.77" shape-rendering="crispEdges" fill="#b33357"/><rect x="235.65" y="402.86" width="2.77" height="2.77" shape-rendering="crispEdges" fill="#ce4545"/><rect x="237.93" y="402.86" width="2.77" height="2.77" shape-rendering="crispEdges" fill="#e86528"/><rect x="203.80" y="405.12" width="2.77" height="2.77" shape-rendering="crispEdges" fill="#270a4b"/><rect x="206.08" y="405.12" width="2.77" height="2.77" shape-rendering="crispEdges" fill="#230a47"/><rect x="208.35" y="405.12" width="2.77" height="2.77" shape-rendering="crispEdges" fill="#320a57"/><rect x="210.62" y="405.12" width="2.77" height="2.77" shape-rendering="crispEdges" fill="#530f6a"/><rect x="212.90" y="405.12" width="2.77" height="2.77" shape-rendering="crispEdges" fill="#67166d"/><rect x="215.18" y="405.12" width="2.77" height="2.77" shape-rendering="crispEdges" fill="#57116b"/><rect x="217.45" y="405.12" width="2.77" height="2.77" shape-rendering="crispEdges" fill="#fbaa11"/><rect x="219.73" y="405.12" width="2.77" height="2.77" shape-rendering="crispEdges" fill="#f0731c"/><rect x="222.00" y="405.12" width="2.77" height="2.77" shape-rendering="crispEdges" fill="#8d2467"/><rect x="224.28" y="405.12" width="2.77" height="2.77" shape-rendering="crispEdges" fill="#b23358"/><rect x="226.55" y="405.12" width="2.77" height="2.77" shape-rendering="crispEdges" fill="#a02b60"/><rect x="228.83" y="405.12" width="2.77" height="2.77" shape-rendering="crispEdges" fill="#791c6b"/><rect x="231.10" y="405.12" width="2.77" height="2.77" shape-rendering="crispEdges" fill="#f37818"/><rect x="233.38" y="405.12" width="2.77" height="2.77" shape-rendering="crispEdges" fill="#e15932"/><rect x="235.65" y="405.12" width="2.77" height="2.77" shape-rendering="crispEdges" fill="#a82e5d"/><rect x="237.93" y="405.12" width="2.77" height="2.77" shape-rendering="crispEdges" fill="#f0731d"/><rect x="203.80" y="407.39" width="2.77" height="2.77" shape-rendering="crispEdges" fill="#1f0a43"/><rect x="206.08" y="407.39" width="2.77" height="2.77" shape-rendering="crispEdges" fill="#440a68"/><rect x="208.35" y="407.39" width="2.77" height="2.77" shape-rendering="crispEdges" fill="#5d126c"/><rect x="210.62" y="407.39" width="2.77" height="2.77" shape-rendering="crispEdges" fill="#390a5f"/><rect x="212.90" y="407.39" width="2.77" height="2.77" shape-rendering="crispEdges" fill="#60136c"/><rect x="215.18" y="407.39" width="2.77" height="2.77" shape-rendering="crispEdges" fill="#440a68"/><rect x="217.45" y="407.39" width="2.77" height="2.77" shape-rendering="crispEdges" fill="#8b2368"/><rect x="219.73" y="407.39" width="2.77" height="2.77" shape-rendering="crispEdges" fill="#c43d4d"/><rect x="222.00" y="407.39" width="2.77" height="2.77" shape-rendering="crispEdges" fill="#912567"/><rect x="224.28" y="407.39" width="2.77" height="2.77" shape-rendering="crispEdges" fill="#ce4545"/><rect x="226.55" y="407.39" width="2.77" height="2.77" shape-rendering="crispEdges" fill="#c43e4c"/><rect x="228.83" y="407.39" width="2.77" height="2.77" shape-rendering="crispEdges" fill="#df5635"/><rect x="231.10" y="407.39" width="2.77" height="2.77" shape-rendering="crispEdges" fill="#b23258"/><rect x="233.38" y="407.39" width="2.77" height="2.77" shape-rendering="crispEdges" fill="#df5436"/><rect x="235.65" y="407.39" width="2.77" height="2.77" shape-rendering="crispEdges" fill="#872168"/><rect x="237.93" y="407.39" width="2.77" height="2.77" shape-rendering="crispEdges" fill="#cc4446"/><rect x="203.80" y="409.66" width="2.77" height="2.77" shape-rendering="crispEdges" fill="#370a5c"/><rect x="206.08" y="409.66" width="2.77" height="2.77" shape-rendering="crispEdges" fill="#69166d"/><rect x="208.35" y="409.66" width="2.77" height="2.77" shape-rendering="crispEdges" fill="#460b68"/><rect x="210.62" y="409.66" width="2.77" height="2.77" shape-rendering="crispEdges" fill="#2c0a51"/><rect x="212.90" y="409.66" width="2.77" height="2.77" shape-rendering="crispEdges" fill="#2f0a53"/><rect x="215.18" y="409.66" width="2.77" height="2.77" shape-rendering="crispEdges" fill="#3b0a61"/><rect x="217.45" y="409.66" width="2.77" height="2.77" shape-rendering="crispEdges" fill="#a62d5e"/><rect x="219.73" y="409.66" width="2.77" height="2.77" shape-rendering="crispEdges" fill="#9d2a62"/><rect x="222.00" y="409.66" width="2.77" height="2.77" shape-rendering="crispEdges" fill="#d54a40"/><rect x="224.28" y="409.66" width="2.77" height="2.77" shape-rendering="crispEdges" fill="#c13b4f"/><rect x="226.55" y="409.66" width="2.77" height="2.77" shape-rendering="crispEdges" fill="#761b6b"/><rect x="228.83" y="409.66" width="2.77" height="2.77" shape-rendering="crispEdges" fill="#7b1d6b"/><rect x="231.10" y="409.66" width="2.77" height="2.77" shape-rendering="crispEdges" fill="#e5602c"/><rect x="233.38" y="409.66" width="2.77" height="2.77" shape-rendering="crispEdges" fill="#d74c3e"/><rect x="235.65" y="409.66" width="2.77" height="2.77" shape-rendering="crispEdges" fill="#b53457"/><rect x="237.93" y="409.66" width="2.77" height="2.77" shape-rendering="crispEdges" fill="#e86528"/><rect x="203.80" y="411.93" width="2.77" height="2.77" shape-rendering="crispEdges" fill="#4f0e6a"/><rect x="206.08" y="411.93" width="2.77" height="2.77" shape-rendering="crispEdges" fill="#4c0d69"/><rect x="208.35" y="411.93" width="2.77" height="2.77" shape-rendering="crispEdges" fill="#67166d"/><rect x="210.62" y="411.93" width="2.77" height="2.77" shape-rendering="crispEdges" fill="#65156d"/><rect x="212.90" y="411.93" width="2.77" height="2.77" shape-rendering="crispEdges" fill="#430a68"/><rect x="215.18" y="411.93" width="2.77" height="2.77" shape-rendering="crispEdges" fill="#55106a"/><rect x="217.45" y="411.93" width="2.77" height="2.77" shape-rendering="crispEdges" fill="#e05734"/><rect x="219.73" y="411.93" width="2.77" height="2.77" shape-rendering="crispEdges" fill="#c23c4e"/><rect x="222.00" y="411.93" width="2.77" height="2.77" shape-rendering="crispEdges" fill="#bf3951"/><rect x="224.28" y="411.93" width="2.77" height="2.77" shape-rendering="crispEdges" fill="#cf4644"/><rect x="226.55" y="411.93" width="2.77" height="2.77" shape-rendering="crispEdges" fill="#a72e5d"/><rect x="228.83" y="411.93" width="2.77" height="2.77" shape-rendering="crispEdges" fill="#6e186d"/><rect x="231.10" y="411.93" width="2.77" height="2.77" shape-rendering="crispEdges" fill="#e35d2f"/><rect x="233.38" y="411.93" width="2.77" height="2.77" shape-rendering="crispEdges" fill="#f37a18"/><rect x="235.65" y="411.93" width="2.77" height="2.77" shape-rendering="crispEdges" fill="#842069"/><rect x="237.93" y="411.93" width="2.77" height="2.77" shape-rendering="crispEdges" fill="#b23358"/>
<rect x="264.1" y="377.9" width="37.6" height="36.4" fill="#000"/>
<path d="M279.1,384.2 L291.7,384.2 L291.7,380.4 L295.8,380.4 L295.8,384.1 L297.5,384.1 L297.5,386.6 L299.8,386.6 L299.8,389.2 L301.7,389.2 L301.7,414.3 L277.5,414.3 L277.5,403.4 L275.8,403.4 L275.8,399.7 L277.5,399.7 L277.5,396.8 L275.8,396.8 L275.8,393.2 L277.5,393.2 L277.5,389.9 L276.6,389.9 L276.6,386.6 L279.1,386.6Z" fill="#fff"/>
<rect x="264.1" y="377.9" width="37.6" height="36.4" fill="none" stroke="#777" stroke-width="0.9"/>
<rect x="326.8" y="377.9" width="36.5" height="36.5" fill="#3535a0"/>
<rect x="326.8" y="400.5" width="36.5" height="13.9" fill="#2a2e80"/>
<clipPath id="fc1"><path d="M341.1,386.1 L341.0,384.3 L341.7,382.6 L343.0,381.8 L344.6,382.3 L345.6,383.6 L347.3,383.3 L350.1,382.8 L352.2,383.3 L352.5,381.8 L353.8,380.8 L355.7,380.7 L357.1,381.8 L357.6,383.8 L357.4,386.1 L359.2,387.6 L361.4,388.8 L363.3,390.1 L363.3,414.4 L339.5,414.4 L340.0,409.4 L341.1,403.9 L342.2,400.3 L343.0,399.1 L341.9,399.1 L340.6,398.9 L339.2,398.6 L337.9,397.6 L337.6,396.3 L338.4,395.3 L339.5,395.1 L340.0,393.9 L339.2,391.8 L339.7,389.8 L340.3,388.1Z"/></clipPath>
<path d="M341.1,386.1 L341.0,384.3 L341.7,382.6 L343.0,381.8 L344.6,382.3 L345.6,383.6 L347.3,383.3 L350.1,382.8 L352.2,383.3 L352.5,381.8 L353.8,380.8 L355.7,380.7 L357.1,381.8 L357.6,383.8 L357.4,386.1 L359.2,387.6 L361.4,388.8 L363.3,390.1 L363.3,414.4 L339.5,414.4 L340.0,409.4 L341.1,403.9 L342.2,400.3 L343.0,399.1 L341.9,399.1 L340.6,398.9 L339.2,398.6 L337.9,397.6 L337.6,396.3 L338.4,395.3 L339.5,395.1 L340.0,393.9 L339.2,391.8 L339.7,389.8 L340.3,388.1Z" fill="url(#rfur2)"/>
<g clip-path="url(#fc1)">
<ellipse cx="349.4" cy="388.8" rx="8.0" ry="5.1" fill="#b04a30" filter="url(#bls)"/>
<ellipse cx="342.5" cy="394.3" rx="4.0" ry="2.0" transform="rotate(-25 342.5 394.3)" fill="#c4664c" filter="url(#bls2)"/>
<ellipse cx="346.9" cy="399.8" rx="5.1" ry="3.3" fill="#6a1a0e" filter="url(#bls)"/>
<ellipse cx="345.1" cy="410.0" rx="5.5" ry="4.4" fill="#6a1a0e" filter="url(#bls)"/>
<ellipse cx="357.8" cy="399.8" rx="3.7" ry="7.3" fill="#9a3420" filter="url(#bls)"/>
<ellipse cx="354.2" cy="382.6" rx="1.8" ry="1.8" fill="#7a2414" filter="url(#bls2)"/>
<ellipse cx="342.9" cy="383.4" rx="1.5" ry="1.5" fill="#7a2414" filter="url(#bls2)"/>
</g>
<ellipse cx="346.1" cy="390.9" rx="0.74" ry="0.49" fill="#4a1010"/>
<ellipse cx="338.7" cy="396.3" rx="1.24" ry="1.07" fill="#4a1010"/>
<path d="M358.3,404.2 C358.9,406.3 361.7,407.1 361.2,410.1 C360.8,412.4 355.8,412.4 355.4,410.1 C355.2,408.0 356.8,407.6 357.0,406.1 C357.9,406.3 358.1,405.2 358.3,404.2Z" fill="#f26a1b"/><ellipse cx="358.3" cy="410.3" rx="1.6" ry="1.8" fill="#ffd84a"/><ellipse cx="358.3" cy="410.7" rx="0.8" ry="1.1" fill="#fff6c0"/>
<line x1="333.8" y1="379.9" x2="333.8" y2="388.9" stroke="#bfe3ff" stroke-width="1.2"/><line x1="337.7" y1="382.1" x2="329.9" y2="386.6" stroke="#bfe3ff" stroke-width="1.2"/><line x1="337.7" y1="386.6" x2="329.9" y2="382.1" stroke="#bfe3ff" stroke-width="1.2"/><circle cx="333.8" cy="384.4" r="2.7" fill="none" stroke="#9fd0f5" stroke-width="0.8"/>
<polyline points="242.5,397.8 262.5,397.8" fill="none" stroke="#f4b183" stroke-width="2.5" stroke-linecap="round" stroke-linejoin="round"/>
<polyline points="254.5,402.4 262.5,397.8 254.5,393.2" fill="none" stroke="#f4b183" stroke-width="2.5" stroke-linecap="round" stroke-linejoin="round"/>
<polyline points="304.2,397.8 325.7,397.8" fill="none" stroke="#ffe18f" stroke-width="2.5" stroke-linecap="round" stroke-linejoin="round"/>
<polyline points="317.7,402.4 325.7,397.8 317.7,393.2" fill="none" stroke="#ffe18f" stroke-width="2.5" stroke-linecap="round" stroke-linejoin="round"/>
<rect x="204.30" y="438.80" width="2.77" height="2.77" shape-rendering="crispEdges" fill="#962765"/><rect x="206.58" y="438.80" width="2.77" height="2.77" shape-rendering="crispEdges" fill="#d84d3d"/><rect x="208.85" y="438.80" width="2.77" height="2.77" shape-rendering="crispEdges" fill="#892268"/><rect x="211.12" y="438.80" width="2.77" height="2.77" shape-rendering="crispEdges" fill="#832069"/><rect x="213.40" y="438.80" width="2.77" height="2.77" shape-rendering="crispEdges" fill="#de5437"/><rect x="215.68" y="438.80" width="2.77" height="2.77" shape-rendering="crispEdges" fill="#c33d4d"/><rect x="217.95" y="438.80" width="2.77" height="2.77" shape-rendering="crispEdges" fill="#9c2a62"/><rect x="220.23" y="438.80" width="2.77" height="2.77" shape-rendering="crispEdges" fill="#e86528"/><rect x="222.50" y="438.80" width="2.77" height="2.77" shape-rendering="crispEdges" fill="#6c176d"/><rect x="224.78" y="438.80" width="2.77" height="2.77" shape-rendering="crispEdges" fill="#832069"/><rect x="227.05" y="438.80" width="2.77" height="2.77" shape-rendering="crispEdges" fill="#e5602c"/><rect x="229.33" y="438.80" width="2.77" height="2.77" shape-rendering="crispEdges" fill="#e7632a"/><rect x="231.60" y="438.80" width="2.77" height="2.77" shape-rendering="crispEdges" fill="#f27719"/><rect x="233.88" y="438.80" width="2.77" height="2.77" shape-rendering="crispEdges" fill="#962765"/><rect x="236.15" y="438.80" width="2.77" height="2.77" shape-rendering="crispEdges" fill="#bd3852"/><rect x="238.43" y="438.80" width="2.77" height="2.77" shape-rendering="crispEdges" fill="#c8404a"/><rect x="204.30" y="441.07" width="2.77" height="2.77" shape-rendering="crispEdges" fill="#a82f5c"/><rect x="206.58" y="441.07" width="2.77" height="2.77" shape-rendering="crispEdges" fill="#a02b60"/><rect x="208.85" y="441.07" width="2.77" height="2.77" shape-rendering="crispEdges" fill="#e6622b"/><rect x="211.12" y="441.07" width="2.77" height="2.77" shape-rendering="crispEdges" fill="#f47e16"/><rect x="213.40" y="441.07" width="2.77" height="2.77" shape-rendering="crispEdges" fill="#c63f4b"/><rect x="215.68" y="441.07" width="2.77" height="2.77" shape-rendering="crispEdges" fill="#811f6a"/><rect x="217.95" y="441.07" width="2.77" height="2.77" shape-rendering="crispEdges" fill="#b63456"/><rect x="220.23" y="441.07" width="2.77" height="2.77" shape-rendering="crispEdges" fill="#8c2368"/><rect x="222.50" y="441.07" width="2.77" height="2.77" shape-rendering="crispEdges" fill="#952765"/><rect x="224.78" y="441.07" width="2.77" height="2.77" shape-rendering="crispEdges" fill="#cd4545"/><rect x="227.05" y="441.07" width="2.77" height="2.77" shape-rendering="crispEdges" fill="#801f6a"/><rect x="229.33" y="441.07" width="2.77" height="2.77" shape-rendering="crispEdges" fill="#922567"/><rect x="231.60" y="441.07" width="2.77" height="2.77" shape-rendering="crispEdges" fill="#0c0621"/><rect x="233.88" y="441.07" width="2.77" height="2.77" shape-rendering="crispEdges" fill="#a92f5c"/><rect x="236.15" y="441.07" width="2.77" height="2.77" shape-rendering="crispEdges" fill="#d44a40"/><rect x="238.43" y="441.07" width="2.77" height="2.77" shape-rendering="crispEdges" fill="#ad305a"/><rect x="204.30" y="443.34" width="2.77" height="2.77" shape-rendering="crispEdges" fill="#fba40a"/><rect x="206.58" y="443.34" width="2.77" height="2.77" shape-rendering="crispEdges" fill="#e5602d"/><rect x="208.85" y="443.34" width="2.77" height="2.77" shape-rendering="crispEdges" fill="#d24842"/><rect x="211.12" y="443.34" width="2.77" height="2.77" shape-rendering="crispEdges" fill="#b13259"/><rect x="213.40" y="443.34" width="2.77" height="2.77" shape-rendering="crispEdges" fill="#ec6d22"/><rect x="215.68" y="443.34" width="2.77" height="2.77" shape-rendering="crispEdges" fill="#8c2368"/><rect x="217.95" y="443.34" width="2.77" height="2.77" shape-rendering="crispEdges" fill="#130932"/><rect x="220.23" y="443.34" width="2.77" height="2.77" shape-rendering="crispEdges" fill="#2b0a50"/><rect x="222.50" y="443.34" width="2.77" height="2.77" shape-rendering="crispEdges" fill="#09041b"/><rect x="224.78" y="443.34" width="2.77" height="2.77" shape-rendering="crispEdges" fill="#3f0a65"/><rect x="227.05" y="443.34" width="2.77" height="2.77" shape-rendering="crispEdges" fill="#220a46"/><rect x="229.33" y="443.34" width="2.77" height="2.77" shape-rendering="crispEdges" fill="#2c0a50"/><rect x="231.60" y="443.34" width="2.77" height="2.77" shape-rendering="crispEdges" fill="#0c0622"/><rect x="233.88" y="443.34" width="2.77" height="2.77" shape-rendering="crispEdges" fill="#cf4644"/><rect x="236.15" y="443.34" width="2.77" height="2.77" shape-rendering="crispEdges" fill="#cb4347"/><rect x="238.43" y="443.34" width="2.77" height="2.77" shape-rendering="crispEdges" fill="#de5338"/><rect x="204.30" y="445.61" width="2.77" height="2.77" shape-rendering="crispEdges" fill="#9c2a62"/><rect x="206.58" y="445.61" width="2.77" height="2.77" shape-rendering="crispEdges" fill="#d84d3d"/><rect x="208.85" y="445.61" width="2.77" height="2.77" shape-rendering="crispEdges" fill="#f7c834"/><rect x="211.12" y="445.61" width="2.77" height="2.77" shape-rendering="crispEdges" fill="#c73f4b"/><rect x="213.40" y="445.61" width="2.77" height="2.77" shape-rendering="crispEdges" fill="#70196c"/><rect x="215.68" y="445.61" width="2.77" height="2.77" shape-rendering="crispEdges" fill="#a52d5e"/><rect x="217.95" y="445.61" width="2.77" height="2.77" shape-rendering="crispEdges" fill="#04020e"/><rect x="220.23" y="445.61" width="2.77" height="2.77" shape-rendering="crispEdges" fill="#410a67"/><rect x="222.50" y="445.61" width="2.77" height="2.77" shape-rendering="crispEdges" fill="#09041a"/><rect x="224.78" y="445.61" width="2.77" height="2.77" shape-rendering="crispEdges" fill="#10082b"/><rect x="227.05" y="445.61" width="2.77" height="2.77" shape-rendering="crispEdges" fill="#0f0728"/><rect x="229.33" y="445.61" width="2.77" height="2.77" shape-rendering="crispEdges" fill="#220a45"/><rect x="231.60" y="445.61" width="2.77" height="2.77" shape-rendering="crispEdges" fill="#070315"/><rect x="233.88" y="445.61" width="2.77" height="2.77" shape-rendering="crispEdges" fill="#ba3654"/><rect x="236.15" y="445.61" width="2.77" height="2.77" shape-rendering="crispEdges" fill="#fab21a"/><rect x="238.43" y="445.61" width="2.77" height="2.77" shape-rendering="crispEdges" fill="#be3951"/><rect x="204.30" y="447.88" width="2.77" height="2.77" shape-rendering="crispEdges" fill="#c13b4f"/><rect x="206.58" y="447.88" width="2.77" height="2.77" shape-rendering="crispEdges" fill="#d64c3e"/><rect x="208.85" y="447.88" width="2.77" height="2.77" shape-rendering="crispEdges" fill="#6f186d"/><rect x="211.12" y="447.88" width="2.77" height="2.77" shape-rendering="crispEdges" fill="#ef711e"/><rect x="213.40" y="447.88" width="2.77" height="2.77" shape-rendering="crispEdges" fill="#962765"/><rect x="215.68" y="447.88" width="2.77" height="2.77" shape-rendering="crispEdges" fill="#e96727"/><rect x="217.95" y="447.88" width="2.77" height="2.77" shape-rendering="crispEdges" fill="#210a45"/><rect x="220.23" y="447.88" width="2.77" height="2.77" shape-rendering="crispEdges" fill="#120930"/><rect x="222.50" y="447.88" width="2.77" height="2.77" shape-rendering="crispEdges" fill="#0e0725"/><rect x="224.78" y="447.88" width="2.77" height="2.77" shape-rendering="crispEdges" fill="#0f072a"/><rect x="227.05" y="447.88" width="2.77" height="2.77" shape-rendering="crispEdges" fill="#0c0622"/><rect x="229.33" y="447.88" width="2.77" height="2.77" shape-rendering="crispEdges" fill="#120930"/><rect x="231.60" y="447.88" width="2.77" height="2.77" shape-rendering="crispEdges" fill="#050212"/><rect x="233.88" y="447.88" width="2.77" height="2.77" shape-rendering="crispEdges" fill="#140a34"/><rect x="236.15" y="447.88" width="2.77" height="2.77" shape-rendering="crispEdges" fill="#070316"/><rect x="238.43" y="447.88" width="2.77" height="2.77" shape-rendering="crispEdges" fill="#e15833"/><rect x="204.30" y="450.14" width="2.77" height="2.77" shape-rendering="crispEdges" fill="#6a176d"/><rect x="206.58" y="450.14" width="2.77" height="2.77" shape-rendering="crispEdges" fill="#8a2268"/><rect x="208.85" y="450.14" width="2.77" height="2.77" shape-rendering="crispEdges" fill="#c63f4b"/><rect x="211.12" y="450.14" width="2.77" height="2.77" shape-rendering="crispEdges" fill="#9b2962"/><rect x="213.40" y="450.14" width="2.77" height="2.77" shape-rendering="crispEdges" fill="#811f69"/><rect x="215.68" y="450.14" width="2.77" height="2.77" shape-rendering="crispEdges" fill="#7d1e6a"/><rect x="217.95" y="450.14" width="2.77" height="2.77" shape-rendering="crispEdges" fill="#0d0623"/><rect x="220.23" y="450.14" width="2.77" height="2.77" shape-rendering="crispEdges" fill="#10082b"/><rect x="222.50" y="450.14" width="2.77" height="2.77" shape-rendering="crispEdges" fill="#130933"/><rect x="224.78" y="450.14" width="2.77" height="2.77" shape-rendering="crispEdges" fill="#050211"/><rect x="227.05" y="450.14" width="2.77" height="2.77" shape-rendering="crispEdges" fill="#09041a"/><rect x="229.33" y="450.14" width="2.77" height="2.77" shape-rendering="crispEdges" fill="#120931"/><rect x="231.60" y="450.14" width="2.77" height="2.77" shape-rendering="crispEdges" fill="#150a38"/><rect x="233.88" y="450.14" width="2.77" height="2.77" shape-rendering="crispEdges" fill="#380a5d"/><rect x="236.15" y="450.14" width="2.77" height="2.77" shape-rendering="crispEdges" fill="#410a67"/><rect x="238.43" y="450.14" width="2.77" height="2.77" shape-rendering="crispEdges" fill="#060312"/><rect x="204.30" y="452.41" width="2.77" height="2.77" shape-rendering="crispEdges" fill="#c43d4d"/><rect x="206.58" y="452.41" width="2.77" height="2.77" shape-rendering="crispEdges" fill="#e55f2d"/><rect x="208.85" y="452.41" width="2.77" height="2.77" shape-rendering="crispEdges" fill="#ed6e21"/><rect x="211.12" y="452.41" width="2.77" height="2.77" shape-rendering="crispEdges" fill="#fbac12"/><rect x="213.40" y="452.41" width="2.77" height="2.77" shape-rendering="crispEdges" fill="#eb6a24"/><rect x="215.68" y="452.41" width="2.77" height="2.77" shape-rendering="crispEdges" fill="#bc3753"/><rect x="217.95" y="452.41" width="2.77" height="2.77" shape-rendering="crispEdges" fill="#12092f"/><rect x="220.23" y="452.41" width="2.77" height="2.77" shape-rendering="crispEdges" fill="#320a57"/><rect x="222.50" y="452.41" width="2.77" height="2.77" shape-rendering="crispEdges" fill="#0c0622"/><rect x="224.78" y="452.41" width="2.77" height="2.77" shape-rendering="crispEdges" fill="#2b0a50"/><rect x="227.05" y="452.41" width="2.77" height="2.77" shape-rendering="crispEdges" fill="#270a4b"/><rect x="229.33" y="452.41" width="2.77" height="2.77" shape-rendering="crispEdges" fill="#3c0a62"/><rect x="231.60" y="452.41" width="2.77" height="2.77" shape-rendering="crispEdges" fill="#1b0a3f"/><rect x="233.88" y="452.41" width="2.77" height="2.77" shape-rendering="crispEdges" fill="#3b0a61"/><rect x="236.15" y="452.41" width="2.77" height="2.77" shape-rendering="crispEdges" fill="#150a38"/><rect x="238.43" y="452.41" width="2.77" height="2.77" shape-rendering="crispEdges" fill="#200a43"/><rect x="204.30" y="454.68" width="2.77" height="2.77" shape-rendering="crispEdges" fill="#d04644"/><rect x="206.58" y="454.68" width="2.77" height="2.77" shape-rendering="crispEdges" fill="#ed6f20"/><rect x="208.85" y="454.68" width="2.77" height="2.77" shape-rendering="crispEdges" fill="#811f69"/><rect x="211.12" y="454.68" width="2.77" height="2.77" shape-rendering="crispEdges" fill="#e6612c"/><rect x="213.40" y="454.68" width="2.77" height="2.77" shape-rendering="crispEdges" fill="#9d2a62"/><rect x="215.68" y="454.68" width="2.77" height="2.77" shape-rendering="crispEdges" fill="#9d2a62"/><rect x="217.95" y="454.68" width="2.77" height="2.77" shape-rendering="crispEdges" fill="#060313"/><rect x="220.23" y="454.68" width="2.77" height="2.77" shape-rendering="crispEdges" fill="#050211"/><rect x="222.50" y="454.68" width="2.77" height="2.77" shape-rendering="crispEdges" fill="#2c0a50"/><rect x="224.78" y="454.68" width="2.77" height="2.77" shape-rendering="crispEdges" fill="#080418"/><rect x="227.05" y="454.68" width="2.77" height="2.77" shape-rendering="crispEdges" fill="#2b0a4f"/><rect x="229.33" y="454.68" width="2.77" height="2.77" shape-rendering="crispEdges" fill="#370a5c"/><rect x="231.60" y="454.68" width="2.77" height="2.77" shape-rendering="crispEdges" fill="#410a67"/><rect x="233.88" y="454.68" width="2.77" height="2.77" shape-rendering="crispEdges" fill="#320a57"/><rect x="236.15" y="454.68" width="2.77" height="2.77" shape-rendering="crispEdges" fill="#150a37"/><rect x="238.43" y="454.68" width="2.77" height="2.77" shape-rendering="crispEdges" fill="#240a48"/><rect x="204.30" y="456.95" width="2.77" height="2.77" shape-rendering="crispEdges" fill="#e76429"/><rect x="206.58" y="456.95" width="2.77" height="2.77" shape-rendering="crispEdges" fill="#9c2962"/><rect x="208.85" y="456.95" width="2.77" height="2.77" shape-rendering="crispEdges" fill="#7c1d6a"/><rect x="211.12" y="456.95" width="2.77" height="2.77" shape-rendering="crispEdges" fill="#f48016"/><rect x="213.40" y="456.95" width="2.77" height="2.77" shape-rendering="crispEdges" fill="#982864"/><rect x="215.68" y="456.95" width="2.77" height="2.77" shape-rendering="crispEdges" fill="#160a39"/><rect x="217.95" y="456.95" width="2.77" height="2.77" shape-rendering="crispEdges" fill="#04020e"/><rect x="220.23" y="456.95" width="2.77" height="2.77" shape-rendering="crispEdges" fill="#050211"/><rect x="222.50" y="456.95" width="2.77" height="2.77" shape-rendering="crispEdges" fill="#0e0727"/><rect x="224.78" y="456.95" width="2.77" height="2.77" shape-rendering="crispEdges" fill="#11082e"/><rect x="227.05" y="456.95" width="2.77" height="2.77" shape-rendering="crispEdges" fill="#3d0a62"/><rect x="229.33" y="456.95" width="2.77" height="2.77" shape-rendering="crispEdges" fill="#0e0726"/><rect x="231.60" y="456.95" width="2.77" height="2.77" shape-rendering="crispEdges" fill="#360a5b"/><rect x="233.88" y="456.95" width="2.77" height="2.77" shape-rendering="crispEdges" fill="#360a5b"/><rect x="236.15" y="456.95" width="2.77" height="2.77" shape-rendering="crispEdges" fill="#140a36"/><rect x="238.43" y="456.95" width="2.77" height="2.77" shape-rendering="crispEdges" fill="#410a67"/><rect x="204.30" y="459.22" width="2.77" height="2.77" shape-rendering="crispEdges" fill="#e15833"/><rect x="206.58" y="459.22" width="2.77" height="2.77" shape-rendering="crispEdges" fill="#972765"/><rect x="208.85" y="459.22" width="2.77" height="2.77" shape-rendering="crispEdges" fill="#ee6f1f"/><rect x="211.12" y="459.22" width="2.77" height="2.77" shape-rendering="crispEdges" fill="#8b2368"/><rect x="213.40" y="459.22" width="2.77" height="2.77" shape-rendering="crispEdges" fill="#bb3654"/><rect x="215.68" y="459.22" width="2.77" height="2.77" shape-rendering="crispEdges" fill="#f6d442"/><rect x="217.95" y="459.22" width="2.77" height="2.77" shape-rendering="crispEdges" fill="#882268"/><rect x="220.23" y="459.22" width="2.77" height="2.77" shape-rendering="crispEdges" fill="#210a45"/><rect x="222.50" y="459.22" width="2.77" height="2.77" shape-rendering="crispEdges" fill="#10082b"/><rect x="224.78" y="459.22" width="2.77" height="2.77" shape-rendering="crispEdges" fill="#380a5e"/><rect x="227.05" y="459.22" width="2.77" height="2.77" shape-rendering="crispEdges" fill="#1a0a3d"/><rect x="229.33" y="459.22" width="2.77" height="2.77" shape-rendering="crispEdges" fill="#1c0a3f"/><rect x="231.60" y="459.22" width="2.77" height="2.77" shape-rendering="crispEdges" fill="#340a5a"/><rect x="233.88" y="459.22" width="2.77" height="2.77" shape-rendering="crispEdges" fill="#0c0623"/><rect x="236.15" y="459.22" width="2.77" height="2.77" shape-rendering="crispEdges" fill="#2d0a52"/><rect x="238.43" y="459.22" width="2.77" height="2.77" shape-rendering="crispEdges" fill="#260a4a"/><rect x="204.30" y="461.49" width="2.77" height="2.77" shape-rendering="crispEdges" fill="#b33357"/><rect x="206.58" y="461.49" width="2.77" height="2.77" shape-rendering="crispEdges" fill="#6d186d"/><rect x="208.85" y="461.49" width="2.77" height="2.77" shape-rendering="crispEdges" fill="#822069"/><rect x="211.12" y="461.49" width="2.77" height="2.77" shape-rendering="crispEdges" fill="#f8be28"/><rect x="213.40" y="461.49" width="2.77" height="2.77" shape-rendering="crispEdges" fill="#f0731c"/><rect x="215.68" y="461.49" width="2.77" height="2.77" shape-rendering="crispEdges" fill="#bd3852"/><rect x="217.95" y="461.49" width="2.77" height="2.77" shape-rendering="crispEdges" fill="#932666"/><rect x="220.23" y="461.49" width="2.77" height="2.77" shape-rendering="crispEdges" fill="#04020f"/><rect x="222.50" y="461.49" width="2.77" height="2.77" shape-rendering="crispEdges" fill="#160a39"/><rect x="224.78" y="461.49" width="2.77" height="2.77" shape-rendering="crispEdges" fill="#2e0a53"/><rect x="227.05" y="461.49" width="2.77" height="2.77" shape-rendering="crispEdges" fill="#11082f"/><rect x="229.33" y="461.49" width="2.77" height="2.77" shape-rendering="crispEdges" fill="#0d0623"/><rect x="231.60" y="461.49" width="2.77" height="2.77" shape-rendering="crispEdges" fill="#060313"/><rect x="233.88" y="461.49" width="2.77" height="2.77" shape-rendering="crispEdges" fill="#2a0a4e"/><rect x="236.15" y="461.49" width="2.77" height="2.77" shape-rendering="crispEdges" fill="#150a37"/><rect x="238.43" y="461.49" width="2.77" height="2.77" shape-rendering="crispEdges" fill="#3b0a60"/><rect x="204.30" y="463.76" width="2.77" height="2.77" shape-rendering="crispEdges" fill="#df5536"/><rect x="206.58" y="463.76" width="2.77" height="2.77" shape-rendering="crispEdges" fill="#ef711e"/><rect x="208.85" y="463.76" width="2.77" height="2.77" shape-rendering="crispEdges" fill="#e6612b"/><rect x="211.12" y="463.76" width="2.77" height="2.77" shape-rendering="crispEdges" fill="#d84d3d"/><rect x="213.40" y="463.76" width="2.77" height="2.77" shape-rendering="crispEdges" fill="#d64b3f"/><rect x="215.68" y="463.76" width="2.77" height="2.77" shape-rendering="crispEdges" fill="#962765"/><rect x="217.95" y="463.76" width="2.77" height="2.77" shape-rendering="crispEdges" fill="#2c0a50"/><rect x="220.23" y="463.76" width="2.77" height="2.77" shape-rendering="crispEdges" fill="#220a45"/><rect x="222.50" y="463.76" width="2.77" height="2.77" shape-rendering="crispEdges" fill="#060313"/><rect x="224.78" y="463.76" width="2.77" height="2.77" shape-rendering="crispEdges" fill="#250a49"/><rect x="227.05" y="463.76" width="2.77" height="2.77" shape-rendering="crispEdges" fill="#230a47"/><rect x="229.33" y="463.76" width="2.77" height="2.77" shape-rendering="crispEdges" fill="#1b0a3e"/><rect x="231.60" y="463.76" width="2.77" height="2.77" shape-rendering="crispEdges" fill="#300a54"/><rect x="233.88" y="463.76" width="2.77" height="2.77" shape-rendering="crispEdges" fill="#380a5d"/><rect x="236.15" y="463.76" width="2.77" height="2.77" shape-rendering="crispEdges" fill="#130932"/><rect x="238.43" y="463.76" width="2.77" height="2.77" shape-rendering="crispEdges" fill="#330a58"/><rect x="204.30" y="466.03" width="2.77" height="2.77" shape-rendering="crispEdges" fill="#bf3951"/><rect x="206.58" y="466.03" width="2.77" height="2.77" shape-rendering="crispEdges" fill="#b13258"/><rect x="208.85" y="466.03" width="2.77" height="2.77" shape-rendering="crispEdges" fill="#b63456"/><rect x="211.12" y="466.03" width="2.77" height="2.77" shape-rendering="crispEdges" fill="#a42d5f"/><rect x="213.40" y="466.03" width="2.77" height="2.77" shape-rendering="crispEdges" fill="#ef711e"/><rect x="215.68" y="466.03" width="2.77" height="2.77" shape-rendering="crispEdges" fill="#aa2f5c"/><rect x="217.95" y="466.03" width="2.77" height="2.77" shape-rendering="crispEdges" fill="#180a3b"/><rect x="220.23" y="466.03" width="2.77" height="2.77" shape-rendering="crispEdges" fill="#140a36"/><rect x="222.50" y="466.03" width="2.77" height="2.77" shape-rendering="crispEdges" fill="#330a58"/><rect x="224.78" y="466.03" width="2.77" height="2.77" shape-rendering="crispEdges" fill="#300a55"/><rect x="227.05" y="466.03" width="2.77" height="2.77" shape-rendering="crispEdges" fill="#400a66"/><rect x="229.33" y="466.03" width="2.77" height="2.77" shape-rendering="crispEdges" fill="#160a39"/><rect x="231.60" y="466.03" width="2.77" height="2.77" shape-rendering="crispEdges" fill="#140a35"/><rect x="233.88" y="466.03" width="2.77" height="2.77" shape-rendering="crispEdges" fill="#1f0a43"/><rect x="236.15" y="466.03" width="2.77" height="2.77" shape-rendering="crispEdges" fill="#2e0a52"/><rect x="238.43" y="466.03" width="2.77" height="2.77" shape-rendering="crispEdges" fill="#070316"/><rect x="204.30" y="468.29" width="2.77" height="2.77" shape-rendering="crispEdges" fill="#8f2467"/><rect x="206.58" y="468.29" width="2.77" height="2.77" shape-rendering="crispEdges" fill="#a12c60"/><rect x="208.85" y="468.29" width="2.77" height="2.77" shape-rendering="crispEdges" fill="#f37b17"/><rect x="211.12" y="468.29" width="2.77" height="2.77" shape-rendering="crispEdges" fill="#f1741b"/><rect x="213.40" y="468.29" width="2.77" height="2.77" shape-rendering="crispEdges" fill="#8d2368"/><rect x="215.68" y="468.29" width="2.77" height="2.77" shape-rendering="crispEdges" fill="#791c6b"/><rect x="217.95" y="468.29" width="2.77" height="2.77" shape-rendering="crispEdges" fill="#09041a"/><rect x="220.23" y="468.29" width="2.77" height="2.77" shape-rendering="crispEdges" fill="#070314"/><rect x="222.50" y="468.29" width="2.77" height="2.77" shape-rendering="crispEdges" fill="#130933"/><rect x="224.78" y="468.29" width="2.77" height="2.77" shape-rendering="crispEdges" fill="#0c0622"/><rect x="227.05" y="468.29" width="2.77" height="2.77" shape-rendering="crispEdges" fill="#0a051d"/><rect x="229.33" y="468.29" width="2.77" height="2.77" shape-rendering="crispEdges" fill="#050210"/><rect x="231.60" y="468.29" width="2.77" height="2.77" shape-rendering="crispEdges" fill="#2a0a4e"/><rect x="233.88" y="468.29" width="2.77" height="2.77" shape-rendering="crispEdges" fill="#060313"/><rect x="236.15" y="468.29" width="2.77" height="2.77" shape-rendering="crispEdges" fill="#0d0624"/><rect x="238.43" y="468.29" width="2.77" height="2.77" shape-rendering="crispEdges" fill="#1f0a43"/><rect x="204.30" y="470.56" width="2.77" height="2.77" shape-rendering="crispEdges" fill="#ec6c22"/><rect x="206.58" y="470.56" width="2.77" height="2.77" shape-rendering="crispEdges" fill="#dc503a"/><rect x="208.85" y="470.56" width="2.77" height="2.77" shape-rendering="crispEdges" fill="#e45e2e"/><rect x="211.12" y="470.56" width="2.77" height="2.77" shape-rendering="crispEdges" fill="#f7c632"/><rect x="213.40" y="470.56" width="2.77" height="2.77" shape-rendering="crispEdges" fill="#c13b4f"/><rect x="215.68" y="470.56" width="2.77" height="2.77" shape-rendering="crispEdges" fill="#e35c30"/><rect x="217.95" y="470.56" width="2.77" height="2.77" shape-rendering="crispEdges" fill="#2a0a4f"/><rect x="220.23" y="470.56" width="2.77" height="2.77" shape-rendering="crispEdges" fill="#150a37"/><rect x="222.50" y="470.56" width="2.77" height="2.77" shape-rendering="crispEdges" fill="#150a36"/><rect x="224.78" y="470.56" width="2.77" height="2.77" shape-rendering="crispEdges" fill="#0e0725"/><rect x="227.05" y="470.56" width="2.77" height="2.77" shape-rendering="crispEdges" fill="#0f0729"/><rect x="229.33" y="470.56" width="2.77" height="2.77" shape-rendering="crispEdges" fill="#200a44"/><rect x="231.60" y="470.56" width="2.77" height="2.77" shape-rendering="crispEdges" fill="#1e0a42"/><rect x="233.88" y="470.56" width="2.77" height="2.77" shape-rendering="crispEdges" fill="#3a0a60"/><rect x="236.15" y="470.56" width="2.77" height="2.77" shape-rendering="crispEdges" fill="#0f0729"/><rect x="238.43" y="470.56" width="2.77" height="2.77" shape-rendering="crispEdges" fill="#2b0a4f"/><rect x="204.30" y="472.83" width="2.77" height="2.77" shape-rendering="crispEdges" fill="#7a1d6b"/><rect x="206.58" y="472.83" width="2.77" height="2.77" shape-rendering="crispEdges" fill="#852169"/><rect x="208.85" y="472.83" width="2.77" height="2.77" shape-rendering="crispEdges" fill="#f37a18"/><rect x="211.12" y="472.83" width="2.77" height="2.77" shape-rendering="crispEdges" fill="#e5602c"/><rect x="213.40" y="472.83" width="2.77" height="2.77" shape-rendering="crispEdges" fill="#9e2a61"/><rect x="215.68" y="472.83" width="2.77" height="2.77" shape-rendering="crispEdges" fill="#b63456"/><rect x="217.95" y="472.83" width="2.77" height="2.77" shape-rendering="crispEdges" fill="#2a0a4e"/><rect x="220.23" y="472.83" width="2.77" height="2.77" shape-rendering="crispEdges" fill="#200a44"/><rect x="222.50" y="472.83" width="2.77" height="2.77" shape-rendering="crispEdges" fill="#150a36"/><rect x="224.78" y="472.83" width="2.77" height="2.77" shape-rendering="crispEdges" fill="#2b0a4f"/><rect x="227.05" y="472.83" width="2.77" height="2.77" shape-rendering="crispEdges" fill="#0d0624"/><rect x="229.33" y="472.83" width="2.77" height="2.77" shape-rendering="crispEdges" fill="#11082e"/><rect x="231.60" y="472.83" width="2.77" height="2.77" shape-rendering="crispEdges" fill="#120931"/><rect x="233.88" y="472.83" width="2.77" height="2.77" shape-rendering="crispEdges" fill="#04020e"/><rect x="236.15" y="472.83" width="2.77" height="2.77" shape-rendering="crispEdges" fill="#390a5e"/><rect x="238.43" y="472.83" width="2.77" height="2.77" shape-rendering="crispEdges" fill="#070317"/>
<rect x="263.3" y="438.8" width="37.6" height="36.4" fill="#fff" stroke="#555" stroke-width="0.9"/>
<path d="M280.1,445.4 L286.0,445.4 L286.0,442.9 L292.8,442.9 L292.8,441.3 L294.5,441.3 L294.5,445.4 L297.0,445.4 L297.0,449.7 L300.9,449.7 L300.9,475.2 L277.6,475.2 L277.6,465.4 L275.9,465.4 L275.9,462.1 L274.6,462.1 L274.6,457.0 L277.6,457.0 L277.6,455.2 L279.3,455.2 L279.3,448.6 L280.1,448.6Z" fill="#000"/>
<rect x="326" y="438.8" width="36.3" height="36" fill="#8e3a30"/>
<rect x="326" y="461.1" width="36.3" height="13.7" fill="#9a4a28"/>
<clipPath id="fcn"><path d="M340.3,446.9 L340.2,445.1 L340.8,443.4 L342.1,442.7 L343.8,443.2 L344.7,444.4 L346.4,444.1 L349.1,443.7 L351.3,444.1 L351.6,442.7 L352.9,441.7 L354.8,441.6 L356.1,442.7 L356.6,444.6 L356.4,446.9 L358.3,448.3 L360.4,449.6 L362.3,450.8 L362.3,474.8 L338.6,474.8 L339.2,469.9 L340.3,464.4 L341.3,460.9 L342.1,459.7 L341.1,459.7 L339.7,459.5 L338.4,459.2 L337.0,458.2 L336.7,457.0 L337.6,456.0 L338.6,455.8 L339.2,454.5 L338.4,452.6 L338.8,450.6 L339.4,448.8Z"/></clipPath>
<path d="M340.3,446.9 L340.2,445.1 L340.8,443.4 L342.1,442.7 L343.8,443.2 L344.7,444.4 L346.4,444.1 L349.1,443.7 L351.3,444.1 L351.6,442.7 L352.9,441.7 L354.8,441.6 L356.1,442.7 L356.6,444.6 L356.4,446.9 L358.3,448.3 L360.4,449.6 L362.3,450.8 L362.3,474.8 L338.6,474.8 L339.2,469.9 L340.3,464.4 L341.3,460.9 L342.1,459.7 L341.1,459.7 L339.7,459.5 L338.4,459.2 L337.0,458.2 L336.7,457.0 L337.6,456.0 L338.6,455.8 L339.2,454.5 L338.4,452.6 L338.8,450.6 L339.4,448.8Z" fill="url(#bfur)"/>
<g clip-path="url(#fcn)">
<ellipse cx="348.5" cy="449.6" rx="8.0" ry="5.0" fill="#4c4cac" filter="url(#bls)"/>
<ellipse cx="341.6" cy="455.0" rx="4.0" ry="2.0" transform="rotate(-25 341.6 455.0)" fill="#6060b8" filter="url(#bls2)"/>
<ellipse cx="346.0" cy="460.4" rx="5.1" ry="3.2" fill="#22206a" filter="url(#bls)"/>
<ellipse cx="344.1" cy="470.5" rx="5.4" ry="4.3" fill="#22206a" filter="url(#bls)"/>
<ellipse cx="356.9" cy="460.4" rx="3.6" ry="7.2" fill="#3a3a90" filter="url(#bls)"/>
<ellipse cx="353.2" cy="443.5" rx="1.8" ry="1.8" fill="#2a2a7a" filter="url(#bls2)"/>
<ellipse cx="342.0" cy="444.2" rx="1.5" ry="1.4" fill="#2a2a7a" filter="url(#bls2)"/>
</g>
<ellipse cx="345.2" cy="451.6" rx="0.74" ry="0.49" fill="#15154a"/>
<ellipse cx="337.8" cy="457.0" rx="1.23" ry="1.07" fill="#15154a"/>
<path d="M332.0,441.1 C332.6,443.2 335.4,444.0 334.9,447.0 C334.5,449.3 329.5,449.3 329.1,447.0 C328.9,444.9 330.5,444.5 330.7,443.0 C331.6,443.2 331.8,442.2 332.0,441.1Z" fill="#f26a1b"/><ellipse cx="332.0" cy="447.2" rx="1.6" ry="1.8" fill="#ffd84a"/><ellipse cx="332.0" cy="447.6" rx="0.8" ry="1.1" fill="#fff6c0"/>
<line x1="357.0" y1="464.3" x2="357.0" y2="473.3" stroke="#bfe3ff" stroke-width="1.2"/><line x1="360.9" y1="466.6" x2="353.1" y2="471.1" stroke="#bfe3ff" stroke-width="1.2"/><line x1="360.9" y1="471.1" x2="353.1" y2="466.6" stroke="#bfe3ff" stroke-width="1.2"/><circle cx="357" cy="468.8" r="2.7" fill="none" stroke="#9fd0f5" stroke-width="0.8"/>
<polyline points="242.5,454.8 262.5,454.8" fill="none" stroke="#f4b183" stroke-width="2.5" stroke-linecap="round" stroke-linejoin="round"/>
<polyline points="254.5,459.4 262.5,454.8 254.5,450.2" fill="none" stroke="#f4b183" stroke-width="2.5" stroke-linecap="round" stroke-linejoin="round"/>
<polyline points="304.2,454.8 325.7,454.8" fill="none" stroke="#ffe18f" stroke-width="2.5" stroke-linecap="round" stroke-linejoin="round"/>
<polyline points="317.7,459.4 325.7,454.8 317.7,450.2" fill="none" stroke="#ffe18f" stroke-width="2.5" stroke-linecap="round" stroke-linejoin="round"/>
<text x="216.5" y="369.5" font-family="Liberation Serif" font-size="13.2" font-weight="bold" text-anchor="middle">M</text>
<text x="222.8" y="372.5" font-family="Liberation Serif" font-size="9.5"><tspan font-size="7" dy="0">∗</tspan><tspan dy="0">,1</tspan></text>
<text x="282.5" y="371.7" font-family="Liberation Serif" font-size="13.2" font-weight="bold" text-anchor="middle">M</text>
<text x="288.8" y="373.9" font-family="Liberation Serif" font-size="9.5">1</text>
<polyline points="279.2,362.6 282.5,360.6 285.8,362.6" fill="none" stroke="#000" stroke-width="0.9"/>
<text x="216.5" y="425.2" font-family="Liberation Serif" font-size="13.2" font-weight="bold" text-anchor="middle">M</text>
<text x="222.8" y="428.2" font-family="Liberation Serif" font-size="9.5"><tspan font-size="7" dy="0">∗</tspan><tspan dy="0">,2</tspan></text>
<text x="282.5" y="427.4" font-family="Liberation Serif" font-size="13.2" font-weight="bold" text-anchor="middle">M</text>
<text x="288.8" y="429.59999999999997" font-family="Liberation Serif" font-size="9.5">2</text>
<polyline points="279.2,418.3 282.5,416.3 285.8,418.3" fill="none" stroke="#000" stroke-width="0.9"/>
<text x="216.5" y="485.8" font-family="Liberation Serif" font-size="13.2" font-weight="bold" text-anchor="middle">M</text>
<text x="222.8" y="488.8" font-family="Liberation Serif" font-size="9.5"><tspan font-size="7" dy="0">∗</tspan><tspan dy="0">,<tspan font-style="italic">n</tspan></tspan></text>
<text x="282.5" y="488.0" font-family="Liberation Serif" font-size="13.2" font-weight="bold" text-anchor="middle">M</text>
<text x="288.8" y="490.2" font-family="Liberation Serif" font-size="9.5"><tspan font-style="italic">n</tspan></text>
<polyline points="279.2,478.9 282.5,476.9 285.8,478.9" fill="none" stroke="#000" stroke-width="0.9"/>
<rect x="373.55" y="326.55" width="85.50" height="31.10" rx="8" fill="#dde8f4" stroke="#385d9c" stroke-width="2.5"/>
<text x="416.55" y="348.4" font-family="Liberation Serif" font-size="16.4" font-weight="bold" text-anchor="middle" >Expert 1</text>
<rect x="374.45" y="380.75" width="85.00" height="31.00" rx="8" fill="#dde8f4" stroke="#385d9c" stroke-width="2.5"/>
<text x="417.2" y="402.55" font-family="Liberation Serif" font-size="16.4" font-weight="bold" text-anchor="middle" >Expert 2</text>
<rect x="375.05" y="439.65" width="85.10" height="31.10" rx="8" fill="#dde8f4" stroke="#385d9c" stroke-width="2.5"/>
<text x="417.85" y="461.5" font-family="Liberation Serif" font-size="16.4" font-weight="bold" text-anchor="middle" >Expert n</text>
<rect x="594.1" y="347.3" width="80.8" height="82.5" fill="#8c3c48"/>
<rect x="594.1" y="398.5" width="80.8" height="31.3" fill="#8a3a1e"/>
<linearGradient id="rfur" x1="0" y1="0" x2="0" y2="1"><stop offset="0" stop-color="#a43a22"/><stop offset="1" stop-color="#7a2010"/></linearGradient>
<clipPath id="fd"><path d="M625.9,365.8 L625.6,361.8 L627.0,357.9 L630.0,356.1 L633.6,357.3 L635.8,360.1 L639.6,359.5 L645.6,358.4 L650.3,359.5 L651.0,356.1 L654.0,353.9 L658.2,353.7 L661.2,356.1 L662.3,360.7 L661.7,365.8 L665.9,369.2 L670.7,372.0 L674.9,374.9 L674.9,429.8 L622.2,429.8 L623.4,418.5 L625.9,406.0 L628.2,398.0 L630.0,395.2 L627.6,395.2 L624.6,394.7 L621.7,394.1 L618.7,391.9 L618.0,389.0 L619.9,386.7 L622.2,386.2 L623.4,383.4 L621.7,378.8 L622.6,374.3 L624.0,370.3Z"/></clipPath>
<path d="M625.9,365.8 L625.6,361.8 L627.0,357.9 L630.0,356.1 L633.6,357.3 L635.8,360.1 L639.6,359.5 L645.6,358.4 L650.3,359.5 L651.0,356.1 L654.0,353.9 L658.2,353.7 L661.2,356.1 L662.3,360.7 L661.7,365.8 L665.9,369.2 L670.7,372.0 L674.9,374.9 L674.9,429.8 L622.2,429.8 L623.4,418.5 L625.9,406.0 L628.2,398.0 L630.0,395.2 L627.6,395.2 L624.6,394.7 L621.7,394.1 L618.7,391.9 L618.0,389.0 L619.9,386.7 L622.2,386.2 L623.4,383.4 L621.7,378.8 L622.6,374.3 L624.0,370.3Z" fill="url(#rfur)"/>
<g clip-path="url(#fd)">
<ellipse cx="644.2" cy="372.1" rx="17.8" ry="11.6" fill="#b04a30" filter="url(#bl)"/>
<ellipse cx="628.8" cy="384.4" rx="8.9" ry="4.5" transform="rotate(-25 628.8 384.4)" fill="#c4664c" filter="url(#bl2)"/>
<ellipse cx="638.5" cy="396.8" rx="11.3" ry="7.4" fill="#6a1a0e" filter="url(#bl)"/>
<ellipse cx="634.5" cy="419.9" rx="12.1" ry="9.9" fill="#6a1a0e" filter="url(#bl)"/>
<ellipse cx="662.8" cy="396.8" rx="8.1" ry="16.5" fill="#9a3420" filter="url(#bl)"/>
<ellipse cx="654.7" cy="358.0" rx="4.0" ry="4.1" fill="#7a2414" filter="url(#bl2)"/>
<ellipse cx="629.7" cy="359.7" rx="3.2" ry="3.3" fill="#7a2414" filter="url(#bl2)"/>
</g>
<ellipse cx="636.9" cy="376.6" rx="1.64" ry="1.10" fill="#4a1010"/>
<ellipse cx="620.4" cy="389.0" rx="2.74" ry="2.37" fill="#4a1010"/>
<path d="M665.8,413.2 C666.8,416.5 671.1,417.8 670.4,422.4 C669.8,426.1 661.8,426.1 661.2,422.4 C660.8,419.1 663.5,418.5 663.8,416.2 C665.1,416.5 665.5,414.9 665.8,413.2Z" fill="#f26a1b"/><ellipse cx="665.8" cy="422.8" rx="2.5" ry="2.8" fill="#ffd84a"/><ellipse cx="665.8" cy="423.4" rx="1.3" ry="1.6" fill="#fff6c0"/>
<text x="633.5" y="443.9" font-family="Liberation Serif" font-size="13.8" text-anchor="middle" >Features</text>
<rect x="710.40" y="309.50" width="36.80" height="178.80" rx="7" fill="#fdf4ef" stroke="#747171" stroke-width="2.4"/>
<line x1="709.4" y1="454.6" x2="748" y2="454.6" stroke="#747171" stroke-width="2.1"/>
<text x="730.6" y="478.5" font-family="Liberation Serif" font-size="13.7" text-anchor="middle" >FFN</text>
<rect x="598.95" y="459.65" width="71.70" height="24.00" rx="5" fill="#e2f0d9" stroke="#747171" stroke-width="1.3"/>
<text x="635.8" y="477.9" font-family="Liberation Serif" font-size="13.7" text-anchor="middle" >Time Step</text>
<polyline points="674.0,471.0 706.0,471.0" fill="none" stroke="#000" stroke-width="2.1" stroke-linecap="round" stroke-linejoin="round"/>
<polyline points="697.5,475.8 706.0,471.0 697.5,466.2" fill="none" stroke="#000" stroke-width="2.1" stroke-linecap="round" stroke-linejoin="round"/>
<polyline points="723.3,336.2 688.7,336.2 688.7,440.7 723.8,440.7" fill="none" stroke="#000" stroke-width="2.1"/>
<line x1="674.9" y1="388.1" x2="723.8" y2="388.1" stroke="#000" stroke-width="2.1"/>
<line x1="726" y1="333.2" x2="739.5" y2="320.2" stroke="#000" stroke-width="2.1" stroke-linecap="round"/>
<circle cx="723.5" cy="336.2" r="3.8" fill="#fff" stroke="#000" stroke-width="2.1"/>
<polyline points="749.3,336.2 781.5,336.2" fill="none" stroke="#000" stroke-width="2.1" stroke-linecap="round" stroke-linejoin="round"/>
<polyline points="773.0,341.0 781.5,336.2 773.0,331.4" fill="none" stroke="#000" stroke-width="2.1" stroke-linecap="round" stroke-linejoin="round"/>
<line x1="726" y1="385.1" x2="739.5" y2="372.1" stroke="#000" stroke-width="2.1" stroke-linecap="round"/>
<circle cx="723.5" cy="388.1" r="3.8" fill="#fff" stroke="#000" stroke-width="2.1"/>
<polyline points="749.3,388.1 781.5,388.1" fill="none" stroke="#000" stroke-width="2.1" stroke-linecap="round" stroke-linejoin="round"/>
<polyline points="773.0,392.9 781.5,388.1 773.0,383.3" fill="none" stroke="#000" stroke-width="2.1" stroke-linecap="round" stroke-linejoin="round"/>
<line x1="726" y1="437.7" x2="739.5" y2="424.7" stroke="#000" stroke-width="2.1" stroke-linecap="round"/>
<circle cx="723.5" cy="440.7" r="3.8" fill="#fff" stroke="#000" stroke-width="2.1"/>
<polyline points="749.3,440.7 781.5,440.7" fill="none" stroke="#000" stroke-width="2.1" stroke-linecap="round" stroke-linejoin="round"/>
<polyline points="773.0,445.5 781.5,440.7 773.0,435.9" fill="none" stroke="#000" stroke-width="2.1" stroke-linecap="round" stroke-linejoin="round"/>
<text x="732" y="421" font-family="Liberation Serif" font-size="15" text-anchor="middle" >…</text>
<rect x="783.75" y="320.35" width="80.50" height="28.60" rx="6" fill="#e2efda" stroke="#70ad47" stroke-width="2.5"/>
<text x="823.7" y="340.70000000000005" font-family="Liberation Serif" font-size="16.4" font-weight="bold" text-anchor="middle" >Expert 1</text>
<rect x="783.75" y="373.25" width="80.50" height="28.60" rx="6" fill="#e2efda" stroke="#70ad47" stroke-width="2.5"/>
<text x="823.7" y="393.6" font-family="Liberation Serif" font-size="16.4" font-weight="bold" text-anchor="middle" >Expert 2</text>
<rect x="783.75" y="426.35" width="80.50" height="28.60" rx="6" fill="#e2efda" stroke="#70ad47" stroke-width="2.5"/>
<text x="823.7" y="446.70000000000005" font-family="Liberation Serif" font-size="16.4" font-weight="bold" text-anchor="middle" >Expert n</text>
<path d="M460.5,340.9 C474,344 481,362 482.3,382.7" fill="none" stroke="#000" stroke-width="2.1" stroke-linecap="round"/>
<polyline points="476.9,374.7 482.3,382.7 486.0,373.8" fill="none" stroke="#000" stroke-width="2.1" stroke-linecap="round" stroke-linejoin="round"/>
<path d="M461.4,395.5 L483.2,391.8" fill="none" stroke="#000" stroke-width="2.1" stroke-linecap="round"/>
<polyline points="475.6,397.8 483.2,391.8 474.1,388.7" fill="none" stroke="#000" stroke-width="2.1" stroke-linecap="round" stroke-linejoin="round"/>
<path d="M461.4,455.5 C474,452 481,428 482.6,402.7" fill="none" stroke="#000" stroke-width="2.1" stroke-linecap="round"/>
<polyline points="486.3,411.6 482.6,402.7 477.2,410.7" fill="none" stroke="#000" stroke-width="2.1" stroke-linecap="round" stroke-linejoin="round"/>
<path d="M865.9,336.4 C879,339 885,356 885.9,374.5" fill="none" stroke="#000" stroke-width="2.1" stroke-linecap="round"/>
<polyline points="880.5,366.5 885.9,374.5 889.6,365.6" fill="none" stroke="#000" stroke-width="2.1" stroke-linecap="round" stroke-linejoin="round"/>
<path d="M865.9,388.2 L885.9,384" fill="none" stroke="#000" stroke-width="2.1" stroke-linecap="round"/>
<polyline points="878.5,390.2 885.9,384.0 876.6,381.2" fill="none" stroke="#000" stroke-width="2.1" stroke-linecap="round" stroke-linejoin="round"/>
<path d="M865.9,443.6 C879,440 885,418 886.8,392.7" fill="none" stroke="#000" stroke-width="2.1" stroke-linecap="round"/>
<polyline points="890.5,401.6 886.8,392.7 881.4,400.7" fill="none" stroke="#000" stroke-width="2.1" stroke-linecap="round" stroke-linejoin="round"/>
</svg>
<div class="cap" style="font-size:22.55px;transform-origin:0 0;">
<div class="ln" style="left:29.4px;top:558.0px;width:999.3px;text-align:justify;text-align-last:justify;word-spacing:-1.6px;"><span style="font-size:24.6px">Figure 8:</span> &nbsp;(<b>a</b>) The architecture of U-Net, which consists of many transformer blocks. (<b>b</b>) Each block contains</div>
<div class="ln" style="left:29.4px;top:583.2px;width:999.3px;text-align:justify;text-align-last:justify;word-spacing:-1.6px;">four primary components including a self-attention layer, a cross-attention layer, a space-MoE layer, and a</div>
<div class="ln" style="left:29.4px;top:608.4px;width:999.3px;text-align:justify;text-align-last:justify;word-spacing:-1.6px;">time-MoE layer. The space-MoE is responsible for depicting different text concepts in specific image regions,</div>
<div class="ln" style="left:29.4px;top:633.6px;width:999.3px;text-align:justify;text-align-last:justify;word-spacing:-1.6px;">while the time-MoE handles different diffusion timesteps. Each block uses edge-supervised cross-attention</div>
<div class="ln" style="left:29.4px;top:658.8px;width:999.3px;text-align:justify;text-align-last:justify;word-spacing:-1.6px;">learning to further improve image quality. (<b>c</b>) shows details of space-MoE. For example, given a prompt “a</div>
<div class="ln" style="left:29.4px;top:684.0px;width:999.3px;text-align:justify;text-align-last:justify;word-spacing:-1.6px;">furry bear under sky”, each text token and its corresponding image region (given by a binary mask) are directed</div>
<div class="ln" style="left:29.4px;top:709.2px;width:999.3px;text-align:justify;text-align-last:justify;word-spacing:-1.6px;">through distinct space experts, <i>i.e.,</i> each expert learns particular visual features at a region. (<b>d</b>) For time-MoE, an</div>
<div class="ln" style="left:29.4px;top:734.4px;word-spacing:0.12px;">initial timestep is provided, followed by the selection of an expert responsible for handling the visual features.</div>
</div>

</body></html>
